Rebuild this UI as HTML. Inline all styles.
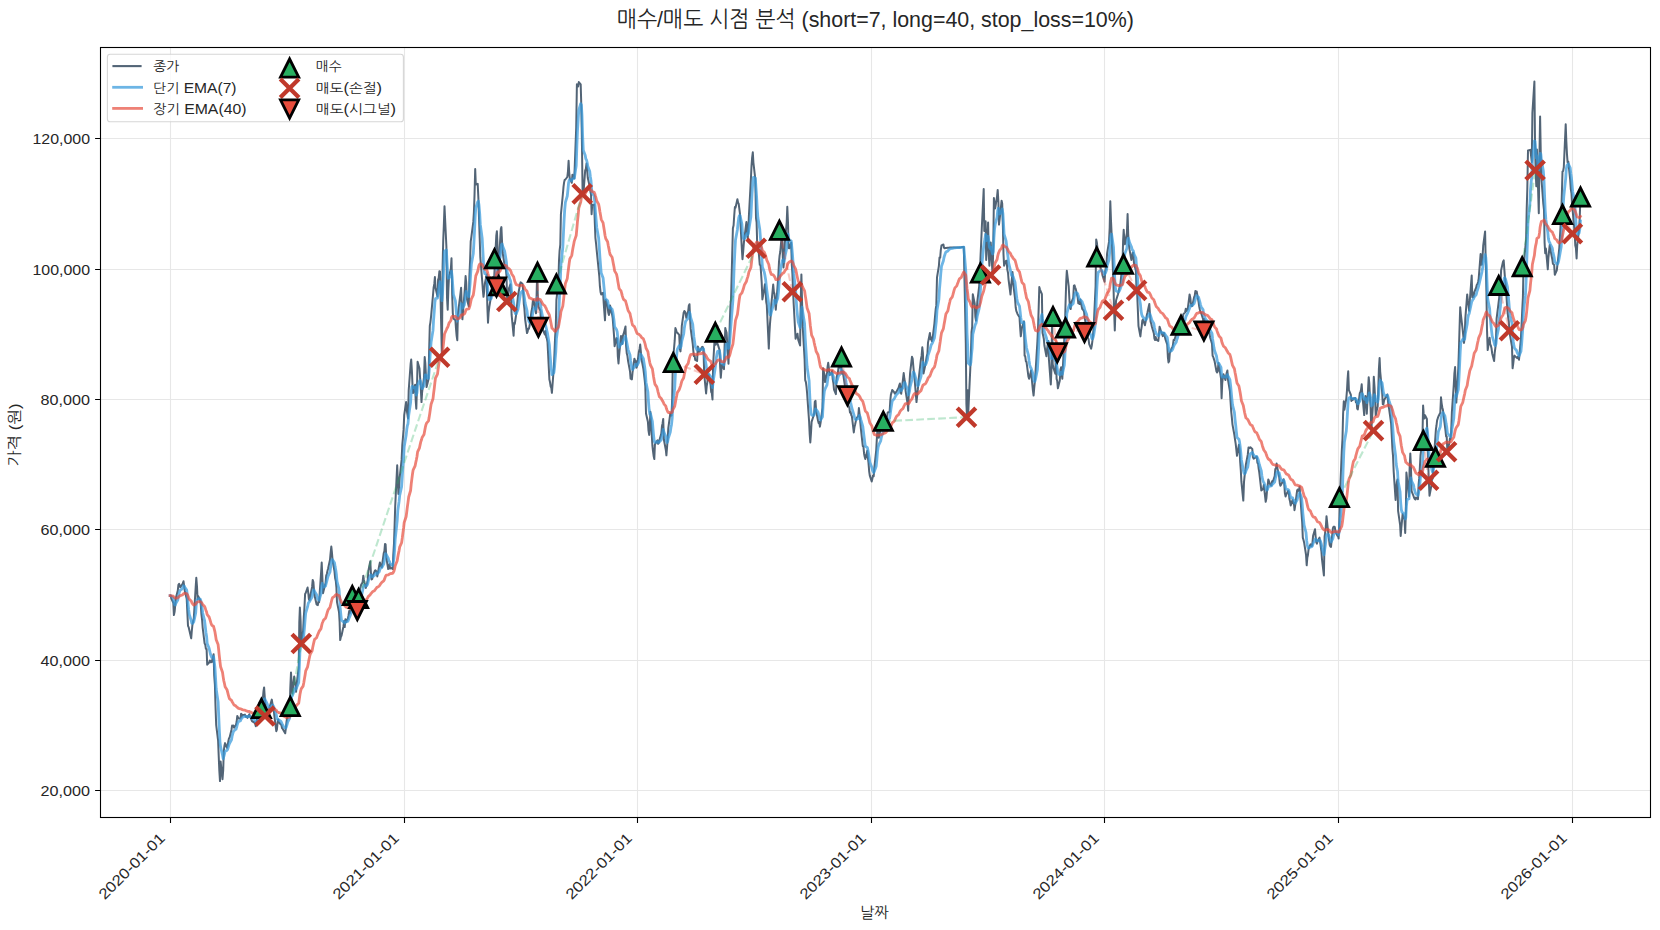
<!DOCTYPE html><html lang="ko"><head><meta charset="utf-8"><title>매수/매도 시점 분석</title>
<style>html,body{margin:0;padding:0;background:#fff}svg{display:block}text{font-family:"Liberation Sans","NanumGothic","Noto Sans CJK KR",sans-serif;fill:#262626}</style></head><body>
<svg width="1660" height="930" viewBox="0 0 1660 930">
<rect width="1660" height="930" fill="#fff"/>
<path d="M170.5 47.5 V817.5 M404.5 47.5 V817.5 M637.5 47.5 V817.5 M871.5 47.5 V817.5 M1104.5 47.5 V817.5 M1338.5 47.5 V817.5 M1572.5 47.5 V817.5 M100.5 790.5 H1650.5 M100.5 660.5 H1650.5 M100.5 529.5 H1650.5 M100.5 399.5 H1650.5 M100.5 269.5 H1650.5 M100.5 138.5 H1650.5" stroke="#b0b0b0" stroke-opacity="0.3" stroke-width="1.05" fill="none"/>
<clipPath id="c"><rect x="100.5" y="47.5" width="1550.0" height="770.0"/></clipPath>
<g clip-path="url(#c)">
<path d="M170.1 595.7 L170.7 595.6 L171.4 598.9 L173.3 602.8 L173.9 615.1 L174.6 611.8 L175.2 605.9 L175.9 597.8 L177.8 590.6 L178.4 584.8 L179.1 583.9 L179.7 585.3 L180.3 587.3 L182.3 584.4 L182.9 583.2 L183.5 581.2 L184.2 586.5 L184.8 590.9 L186.7 598.8 L187.4 613.4 L188.0 625.9 L188.6 627.1 L189.3 630.1 L191.2 638.4 L191.8 631.0 L192.5 624.2 L193.1 621.5 L193.8 618.2 L195.7 586.7 L196.3 577.8 L197.0 586.5 L197.6 599.2 L198.2 596.1 L200.2 600.2 L200.8 605.1 L201.4 614.2 L202.1 620.0 L202.7 627.8 L204.6 643.4 L205.3 644.8 L205.9 648.8 L206.6 648.9 L207.2 664.7 L209.1 662.5 L209.8 660.5 L210.4 662.3 L211.0 661.2 L211.7 662.2 L213.6 654.3 L214.2 675.5 L214.9 684.8 L215.5 706.3 L216.2 725.1 L218.1 740.7 L218.7 755.8 L219.3 770.1 L220.0 781.1 L220.6 761.4 L222.5 779.2 L223.2 770.1 L223.8 750.7 L224.5 745.5 L225.1 743.1 L227.0 747.8 L227.7 745.5 L228.3 741.5 L228.9 738.6 L229.6 737.4 L231.5 729.7 L232.1 725.6 L232.8 725.8 L233.4 725.5 L234.1 727.7 L236.0 724.8 L236.6 722.0 L237.3 715.9 L237.9 717.1 L238.5 718.5 L240.5 718.5 L241.1 713.7 L241.7 716.7 L242.4 714.7 L243.0 715.3 L244.9 714.6 L245.6 716.3 L246.2 717.0 L246.9 716.2 L247.5 717.9 L249.4 714.2 L250.0 716.7 L250.7 717.8 L251.3 719.3 L252.0 721.2 L253.9 722.4 L254.5 722.2 L255.2 724.0 L255.8 726.2 L256.4 723.5 L258.4 709.6 L259.0 704.2 L259.6 702.3 L260.3 703.1 L260.9 708.5 L262.8 698.6 L263.5 691.1 L264.1 687.4 L264.8 697.7 L265.4 704.5 L267.3 716.0 L268.0 714.5 L268.6 710.4 L269.2 708.2 L269.9 706.2 L271.8 699.6 L272.4 703.3 L273.1 708.3 L273.7 709.6 L274.4 716.2 L276.3 731.2 L276.9 729.7 L277.6 722.5 L278.2 719.5 L278.8 722.2 L280.8 724.5 L281.4 725.0 L282.0 728.0 L282.7 728.8 L283.3 729.9 L285.2 733.3 L285.9 727.9 L286.5 721.9 L287.1 717.8 L287.8 714.5 L289.7 706.5 L290.3 688.1 L291.0 672.6 L291.6 683.2 L292.3 693.5 L294.2 676.4 L294.8 682.8 L295.5 685.3 L296.1 691.8 L296.7 683.5 L298.7 667.8 L299.3 622.4 L299.9 607.5 L300.6 620.9 L301.2 643.5 L303.1 630.8 L303.8 617.1 L304.4 608.3 L305.1 594.0 L305.7 593.0 L307.6 587.5 L308.3 593.1 L308.9 599.2 L309.5 600.1 L310.2 596.2 L312.1 586.9 L312.7 579.9 L313.4 582.0 L314.0 590.0 L314.6 595.8 L316.6 604.5 L317.2 604.9 L317.8 605.1 L318.5 601.2 L319.1 602.1 L321.0 573.7 L321.7 562.6 L322.3 575.9 L323.0 593.3 L323.6 590.8 L325.5 583.3 L326.2 575.6 L326.8 574.0 L327.4 571.3 L328.1 568.5 L330.0 559.8 L330.6 553.1 L331.3 546.5 L331.9 552.2 L332.6 560.6 L334.5 571.4 L335.1 578.0 L335.8 581.0 L336.4 587.3 L337.0 602.1 L339.0 612.0 L339.6 621.6 L340.2 640.1 L340.9 636.7 L341.5 635.8 L343.4 626.7 L344.1 621.1 L344.7 627.1 L345.4 619.3 L346.0 622.2 L347.9 618.4 L348.5 615.5 L349.2 610.9 L349.8 613.4 L350.5 609.5 L352.4 595.5 L353.0 608.8 L353.7 609.4 L354.3 608.7 L354.9 608.9 L356.9 604.8 L357.5 610.6 L358.1 598.7 L358.8 598.5 L359.4 591.2 L361.3 584.3 L362.0 583.5 L362.6 582.1 L363.3 575.7 L363.9 580.0 L365.8 587.9 L366.5 585.5 L367.1 582.9 L367.7 580.3 L368.4 570.7 L370.3 561.2 L370.9 572.6 L371.6 579.4 L372.2 579.0 L372.9 575.6 L374.8 570.8 L375.4 570.3 L376.1 570.9 L376.7 572.4 L377.3 576.4 L379.2 565.7 L379.9 562.4 L380.5 565.2 L381.2 566.4 L381.8 567.2 L383.7 553.3 L384.4 551.0 L385.0 544.0 L385.6 544.3 L386.3 557.7 L388.2 569.1 L388.8 568.0 L389.5 564.2 L390.1 568.5 L390.8 567.9 L392.7 569.0 L393.3 554.9 L394.0 543.2 L394.6 525.9 L395.2 506.3 L397.2 465.3 L397.8 480.6 L398.4 493.9 L399.1 486.4 L399.7 477.5 L401.6 459.9 L402.3 444.8 L402.9 438.2 L403.6 429.4 L404.2 415.2 L406.1 402.1 L406.8 410.5 L407.4 414.1 L408.0 418.4 L408.7 390.4 L410.6 364.2 L411.2 359.6 L411.9 370.8 L412.5 385.1 L413.1 393.1 L415.1 384.8 L415.7 400.4 L416.3 408.8 L417.0 386.5 L417.6 361.7 L419.5 368.5 L420.2 379.0 L420.8 388.4 L421.5 402.1 L422.1 392.5 L424.0 377.3 L424.7 357.1 L425.3 363.1 L425.9 375.1 L426.6 387.1 L428.5 379.3 L429.1 352.0 L429.8 326.0 L430.4 322.3 L431.1 316.1 L433.0 295.1 L433.6 287.8 L434.3 283.9 L434.9 277.1 L435.5 287.8 L437.5 296.4 L438.1 279.7 L438.7 278.0 L439.4 271.2 L440.0 271.6 L441.9 357.3 L442.6 266.9 L443.2 241.2 L443.8 226.4 L444.5 206.2 L446.4 246.5 L447.0 297.8 L447.7 309.7 L448.3 291.1 L449.0 276.8 L450.9 268.6 L451.5 258.3 L452.2 295.2 L452.8 313.1 L453.4 318.5 L455.4 320.3 L456.0 328.6 L456.6 335.5 L457.3 340.2 L457.9 314.4 L459.8 298.8 L460.5 293.2 L461.1 287.8 L461.8 306.3 L462.4 319.3 L464.3 295.9 L465.0 286.7 L465.6 276.0 L466.2 282.7 L466.9 299.1 L468.8 306.5 L469.4 276.3 L470.1 260.3 L470.7 241.5 L471.4 236.7 L473.3 221.9 L473.9 212.3 L474.5 195.7 L475.2 169.1 L475.8 184.5 L477.7 183.9 L478.4 198.5 L479.0 217.8 L479.7 238.0 L480.3 257.2 L482.2 280.9 L482.9 290.4 L483.5 296.8 L484.1 292.2 L484.8 283.8 L486.7 275.0 L487.3 305.2 L488.0 322.7 L488.6 312.7 L489.3 307.2 L491.2 295.4 L491.8 286.0 L492.5 280.4 L493.1 277.0 L493.7 287.0 L495.7 247.2 L496.3 235.6 L496.9 231.2 L497.6 247.2 L498.2 285.8 L500.1 241.0 L500.8 229.1 L501.4 227.1 L502.1 242.5 L502.7 253.0 L504.6 265.4 L505.3 267.1 L505.9 269.8 L506.5 275.9 L507.2 301.5 L509.1 287.8 L509.7 286.4 L510.4 284.4 L511.0 296.8 L511.6 314.7 L513.6 335.7 L514.2 322.9 L514.8 323.8 L515.5 319.0 L516.1 314.8 L518.0 295.7 L518.7 291.8 L519.3 288.5 L520.0 284.3 L520.6 282.4 L522.5 283.8 L523.2 291.1 L523.8 303.8 L524.4 308.6 L525.1 319.0 L527.0 333.1 L527.6 331.8 L528.3 328.4 L528.9 328.8 L529.6 325.8 L531.5 311.2 L532.1 308.5 L532.8 301.7 L533.4 300.1 L534.0 302.1 L536.0 313.3 L536.6 295.3 L537.2 272.3 L537.9 300.1 L538.5 306.7 L540.4 310.7 L541.1 327.3 L541.7 322.4 L542.3 324.2 L543.0 330.1 L544.9 334.5 L545.5 330.9 L546.2 337.0 L546.8 338.4 L547.5 342.1 L549.4 379.6 L550.0 382.0 L550.7 386.5 L551.3 387.8 L551.9 392.8 L553.9 366.7 L554.5 352.4 L555.1 337.2 L555.8 326.2 L556.4 299.9 L558.3 283.9 L559.0 260.9 L559.6 250.6 L560.3 244.6 L560.9 214.4 L562.8 195.0 L563.5 186.9 L564.1 182.4 L564.7 179.8 L565.4 179.5 L567.3 177.0 L567.9 172.2 L568.6 160.8 L569.2 172.3 L569.8 178.6 L571.8 182.8 L572.4 174.7 L573.0 178.1 L573.7 176.7 L574.3 178.4 L576.2 127.7 L576.9 84.2 L577.5 86.1 L578.2 86.4 L578.8 82.1 L580.7 84.4 L581.4 108.9 L582.0 147.4 L582.6 193.9 L583.3 195.2 L585.2 170.2 L585.8 169.2 L586.5 163.5 L587.1 169.6 L587.8 178.0 L589.7 186.2 L590.3 191.2 L591.0 194.2 L591.6 214.3 L592.2 205.2 L594.2 204.6 L594.8 222.4 L595.4 237.8 L596.1 243.8 L596.7 250.4 L598.6 269.2 L599.3 276.3 L599.9 286.2 L600.6 292.3 L601.2 294.6 L603.1 292.7 L603.7 303.0 L604.4 312.7 L605.0 320.3 L605.7 299.8 L607.6 306.6 L608.2 312.2 L608.9 315.1 L609.5 312.6 L610.1 305.6 L612.1 314.7 L612.7 318.3 L613.3 326.1 L614.0 335.1 L614.6 346.3 L616.5 338.1 L617.2 338.7 L617.8 355.8 L618.5 363.5 L619.1 355.7 L621.0 335.9 L621.7 340.4 L622.3 344.0 L622.9 335.7 L623.6 334.0 L625.5 326.4 L626.1 346.0 L626.8 353.6 L627.4 355.7 L628.1 361.1 L630.0 371.2 L630.6 378.7 L631.3 377.5 L631.9 379.4 L632.5 372.7 L634.4 358.7 L635.1 360.5 L635.7 360.8 L636.4 367.7 L637.0 366.6 L638.9 351.7 L639.6 348.7 L640.2 344.5 L640.8 351.2 L641.5 359.0 L643.4 369.1 L644.0 374.1 L644.7 380.1 L645.3 386.1 L646.0 413.5 L647.9 421.8 L648.5 430.7 L649.2 434.9 L649.8 425.7 L650.4 411.8 L652.4 445.7 L653.0 451.2 L653.6 455.7 L654.3 459.1 L654.9 444.6 L656.8 441.2 L657.5 440.2 L658.1 443.8 L658.8 442.9 L659.4 440.2 L661.3 433.6 L662.0 425.9 L662.6 423.4 L663.2 418.9 L663.9 439.8 L665.8 449.7 L666.4 455.3 L667.1 446.6 L667.7 438.5 L668.3 428.1 L670.3 413.4 L670.9 415.1 L671.5 415.6 L672.2 398.4 L672.8 362.5 L674.7 340.7 L675.4 328.1 L676.0 329.6 L676.7 332.6 L677.3 332.6 L679.2 334.9 L679.9 349.1 L680.5 351.4 L681.1 341.8 L681.8 325.8 L683.7 312.5 L684.3 311.0 L685.0 311.7 L685.6 313.2 L686.3 317.8 L688.2 311.0 L688.8 305.7 L689.5 304.2 L690.1 319.0 L690.7 328.9 L692.7 343.5 L693.3 350.3 L693.9 356.1 L694.6 355.7 L695.2 359.9 L697.1 361.0 L697.8 346.5 L698.4 347.9 L699.0 351.8 L699.7 351.4 L701.6 347.7 L702.2 346.8 L702.9 347.1 L703.5 349.7 L704.2 374.2 L706.1 393.4 L706.7 386.4 L707.4 381.8 L708.0 374.7 L708.6 374.4 L710.6 385.1 L711.2 392.1 L711.8 393.1 L712.5 399.5 L713.1 365.2 L715.0 332.3 L715.7 344.8 L716.3 341.7 L717.0 341.4 L717.6 343.8 L719.5 349.9 L720.2 367.9 L720.8 377.7 L721.4 369.9 L722.1 364.5 L724.0 369.1 L724.6 345.9 L725.3 327.9 L725.9 330.7 L726.6 332.7 L728.5 363.8 L729.1 345.1 L729.8 321.8 L730.4 306.0 L731.0 300.2 L732.9 228.3 L733.6 225.3 L734.2 215.7 L734.9 207.0 L735.5 207.8 L737.4 199.3 L738.1 202.8 L738.7 203.8 L739.3 208.5 L740.0 214.1 L741.9 249.9 L742.5 259.2 L743.2 251.5 L743.8 243.6 L744.5 237.3 L746.4 222.1 L747.0 230.1 L747.7 238.3 L748.3 231.1 L748.9 215.8 L750.9 179.0 L751.5 166.0 L752.1 157.9 L752.8 152.3 L753.4 162.6 L755.3 178.8 L756.0 218.2 L756.6 222.4 L757.3 248.3 L757.9 242.9 L759.8 264.8 L760.5 265.3 L761.1 273.6 L761.7 282.6 L762.4 299.4 L764.3 288.6 L764.9 284.3 L765.6 291.7 L766.2 301.8 L766.8 305.1 L768.8 348.6 L769.4 333.4 L770.0 323.7 L770.7 315.5 L771.3 304.7 L773.2 284.5 L773.9 292.2 L774.5 293.9 L775.2 303.6 L775.8 309.7 L777.7 284.5 L778.4 273.8 L779.0 261.9 L779.6 255.6 L780.3 251.5 L782.2 230.3 L782.8 257.8 L783.5 267.5 L784.1 261.0 L784.8 243.5 L786.7 222.3 L787.3 206.7 L788.0 222.5 L788.6 248.1 L789.2 248.3 L791.2 242.6 L791.8 264.6 L792.4 273.7 L793.1 291.7 L793.7 304.3 L795.6 338.8 L796.3 336.1 L796.9 334.7 L797.5 333.7 L798.2 339.7 L800.1 345.5 L800.7 300.6 L801.4 274.4 L802.0 300.0 L802.7 326.4 L804.6 359.3 L805.2 380.2 L805.9 382.2 L806.5 386.5 L807.1 393.1 L809.1 421.5 L809.7 434.1 L810.3 442.4 L811.0 432.7 L811.6 421.9 L813.5 416.0 L814.2 413.2 L814.8 401.9 L815.5 400.8 L816.1 410.9 L818.0 420.5 L818.7 423.3 L819.3 422.1 L819.9 426.7 L820.6 422.7 L822.5 407.5 L823.1 368.2 L823.8 371.3 L824.4 375.5 L825.1 382.1 L827.0 372.7 L827.6 366.6 L828.2 362.8 L828.9 368.2 L829.5 375.0 L831.4 373.1 L832.1 371.0 L832.7 379.1 L833.4 383.0 L834.0 389.6 L835.9 394.2 L836.6 377.2 L837.2 375.0 L837.8 373.4 L838.5 367.7 L840.4 367.4 L841.0 357.0 L841.7 373.4 L842.3 371.0 L843.0 373.2 L844.9 385.5 L845.5 388.5 L846.2 396.1 L846.8 395.7 L847.4 403.0 L849.4 408.0 L850.0 412.6 L850.6 411.9 L851.3 415.2 L851.9 416.3 L853.8 432.4 L854.5 426.9 L855.1 424.5 L855.8 421.2 L856.4 418.5 L858.3 415.7 L858.9 408.0 L859.6 414.3 L860.2 421.1 L860.9 429.0 L862.8 446.2 L863.4 446.2 L864.1 453.9 L864.7 456.8 L865.3 459.1 L867.3 450.7 L867.9 458.0 L868.5 462.9 L869.2 471.6 L869.8 475.6 L871.7 481.5 L872.4 478.6 L873.0 475.5 L873.7 476.3 L874.3 468.1 L876.2 450.3 L876.9 437.8 L877.5 429.0 L878.1 434.3 L878.8 437.8 L880.7 428.8 L881.3 427.9 L882.0 427.1 L882.6 428.6 L883.3 426.9 L885.2 421.3 L885.8 422.0 L886.5 418.3 L887.1 416.2 L887.7 412.5 L889.6 412.0 L890.3 400.5 L890.9 394.6 L891.6 392.4 L892.2 389.9 L894.1 392.1 L894.8 393.7 L895.4 392.9 L896.0 392.3 L896.7 391.2 L898.6 387.8 L899.2 385.4 L899.9 383.5 L900.5 390.7 L901.2 393.8 L903.1 378.4 L903.7 373.1 L904.4 379.0 L905.0 382.2 L905.6 390.9 L907.6 404.0 L908.2 410.7 L908.8 392.5 L909.5 382.7 L910.1 373.1 L912.0 356.7 L912.7 358.9 L913.3 366.1 L914.0 373.5 L914.6 379.0 L916.5 402.1 L917.2 395.3 L917.8 389.7 L918.4 382.3 L919.1 375.4 L921.0 358.6 L921.6 355.9 L922.3 347.3 L922.9 352.9 L923.5 373.5 L925.5 364.0 L926.1 360.5 L926.7 356.5 L927.4 353.8 L928.0 342.6 L929.9 332.9 L930.6 339.3 L931.2 337.5 L931.9 341.3 L932.5 339.2 L934.4 323.6 L935.1 315.5 L935.7 309.1 L936.3 305.4 L937.0 277.5 L938.9 265.8 L939.5 257.5 L940.2 257.6 L940.8 250.1 L941.5 245.3 L943.4 244.5 L944.0 247.7 L944.7 248.3 L945.3 248.1 L945.9 248.0 L947.9 247.7 L948.5 247.7 L949.1 247.7 L949.8 247.6 L950.4 247.6 L952.3 247.5 L953.0 247.5 L953.6 247.5 L954.2 247.5 L954.9 247.5 L956.8 247.5 L957.4 247.5 L958.1 247.5 L958.7 247.5 L959.4 247.4 L961.3 247.2 L961.9 247.1 L962.6 247.0 L963.2 247.0 L963.8 246.9 L965.8 343.2 L966.4 403.9 L967.0 417.2 L967.7 390.2 L968.3 411.9 L970.2 370.6 L970.9 354.2 L971.5 332.2 L972.2 326.6 L972.8 294.3 L974.7 303.5 L975.4 317.2 L976.0 320.7 L976.6 311.6 L977.3 301.7 L979.2 286.0 L979.8 273.0 L980.5 257.4 L981.1 244.3 L981.8 227.9 L983.7 189.0 L984.3 231.1 L985.0 227.0 L985.6 221.3 L986.2 259.9 L988.1 222.6 L988.8 254.7 L989.4 265.7 L990.1 253.0 L990.7 242.4 L992.6 275.0 L993.3 244.5 L993.9 198.0 L994.5 203.5 L995.2 208.4 L997.1 196.1 L997.7 189.9 L998.4 202.2 L999.0 224.6 L999.7 218.9 L1001.6 200.7 L1002.2 203.5 L1002.9 227.0 L1003.5 254.2 L1004.1 265.7 L1006.1 260.7 L1006.7 260.8 L1007.3 269.6 L1008.0 272.7 L1008.6 279.8 L1010.5 294.5 L1011.2 285.1 L1011.8 279.8 L1012.5 272.1 L1013.1 282.9 L1015.0 298.2 L1015.7 307.5 L1016.3 310.9 L1016.9 312.4 L1017.6 314.2 L1019.5 317.1 L1020.1 327.2 L1020.8 336.3 L1021.4 332.0 L1022.0 327.3 L1024.0 321.4 L1024.6 355.8 L1025.2 356.1 L1025.9 361.4 L1026.5 361.8 L1028.4 376.4 L1029.1 378.7 L1029.7 376.7 L1030.4 374.1 L1031.0 370.6 L1032.9 390.3 L1033.6 395.5 L1034.2 388.1 L1034.8 382.1 L1035.5 372.6 L1037.4 341.5 L1038.0 328.8 L1038.7 307.3 L1039.3 287.1 L1040.0 289.6 L1041.9 294.2 L1042.5 332.7 L1043.2 335.7 L1043.8 338.7 L1044.4 345.5 L1046.4 356.3 L1047.0 349.6 L1047.6 345.5 L1048.3 341.1 L1048.9 359.2 L1050.8 384.5 L1051.5 367.8 L1052.1 316.5 L1052.7 364.2 L1053.4 367.7 L1055.3 373.8 L1055.9 352.8 L1056.6 378.9 L1057.2 380.9 L1057.9 388.3 L1059.8 380.5 L1060.4 370.1 L1061.1 367.3 L1061.7 374.2 L1062.3 378.7 L1064.3 338.8 L1064.9 328.0 L1065.5 304.7 L1066.2 282.0 L1066.8 270.7 L1068.7 286.1 L1069.4 299.0 L1070.0 307.7 L1070.7 309.0 L1071.3 302.7 L1073.2 297.9 L1073.9 285.6 L1074.5 285.3 L1075.1 287.3 L1075.8 289.1 L1077.7 297.6 L1078.3 303.3 L1079.0 303.5 L1079.6 304.0 L1080.3 299.6 L1082.2 308.9 L1082.8 309.7 L1083.4 309.9 L1084.1 312.0 L1084.7 318.2 L1086.6 327.8 L1087.3 332.5 L1087.9 337.6 L1088.6 339.4 L1089.2 344.2 L1091.1 348.7 L1091.8 345.5 L1092.4 340.9 L1093.0 334.8 L1093.7 326.8 L1095.6 286.0 L1096.2 239.4 L1096.9 242.8 L1097.5 248.3 L1098.2 257.0 L1100.1 266.1 L1100.7 268.3 L1101.4 270.1 L1102.0 271.5 L1102.6 275.8 L1104.6 281.8 L1105.2 271.1 L1105.8 268.2 L1106.5 263.5 L1107.1 253.3 L1109.0 241.9 L1109.7 227.6 L1110.3 201.2 L1111.0 220.7 L1111.6 233.3 L1113.5 286.5 L1114.1 310.3 L1114.8 330.5 L1115.4 311.6 L1116.1 300.3 L1118.0 294.2 L1118.6 292.0 L1119.3 288.3 L1119.9 286.0 L1120.5 282.6 L1122.5 264.3 L1123.1 241.1 L1123.7 229.8 L1124.4 240.9 L1125.0 244.2 L1126.9 233.0 L1127.6 214.0 L1128.2 233.7 L1128.9 245.2 L1129.5 249.4 L1131.4 260.0 L1132.1 257.4 L1132.7 252.7 L1133.3 253.0 L1134.0 263.3 L1135.9 270.8 L1136.5 290.4 L1137.2 294.2 L1137.8 308.8 L1138.5 326.1 L1140.4 336.4 L1141.0 330.7 L1141.7 326.6 L1142.3 320.7 L1142.9 319.5 L1144.9 325.2 L1145.5 322.2 L1146.1 319.4 L1146.8 315.2 L1147.4 312.8 L1149.3 303.9 L1150.0 314.8 L1150.6 321.8 L1151.2 323.6 L1151.9 326.7 L1153.8 333.2 L1154.4 338.5 L1155.1 340.0 L1155.7 337.1 L1156.4 339.7 L1158.3 341.0 L1158.9 334.9 L1159.6 326.7 L1160.2 328.5 L1160.8 330.9 L1162.8 336.1 L1163.4 333.0 L1164.0 333.0 L1164.7 336.1 L1165.3 338.9 L1167.2 344.3 L1167.9 357.3 L1168.5 362.4 L1169.2 361.0 L1169.8 353.2 L1171.7 348.2 L1172.4 347.3 L1173.0 344.6 L1173.6 339.9 L1174.3 340.1 L1176.2 334.5 L1176.8 332.0 L1177.5 332.7 L1178.1 328.3 L1178.7 327.0 L1180.7 321.0 L1181.3 325.3 L1181.9 319.0 L1182.6 320.7 L1183.2 314.4 L1185.1 312.3 L1185.8 308.8 L1186.4 311.1 L1187.1 309.9 L1187.7 309.3 L1189.6 294.5 L1190.3 297.6 L1190.9 303.8 L1191.5 306.3 L1192.2 306.1 L1194.1 297.2 L1194.7 295.9 L1195.4 290.9 L1196.0 291.6 L1196.7 291.5 L1198.6 302.1 L1199.2 306.5 L1199.9 309.8 L1200.5 312.1 L1201.1 313.0 L1203.1 319.2 L1203.7 331.0 L1204.3 319.1 L1205.0 323.1 L1205.6 322.8 L1207.5 328.1 L1208.2 327.6 L1208.8 332.8 L1209.4 332.6 L1210.1 337.5 L1212.0 343.8 L1212.6 355.8 L1213.3 357.1 L1213.9 359.2 L1214.6 361.2 L1216.5 371.5 L1217.1 372.4 L1217.8 371.3 L1218.4 362.9 L1219.0 365.8 L1221.0 378.3 L1221.6 398.2 L1222.2 383.5 L1222.9 376.9 L1223.5 374.3 L1225.4 380.0 L1226.1 376.0 L1226.7 372.9 L1227.4 370.5 L1228.0 379.8 L1229.9 391.0 L1230.6 402.3 L1231.2 411.5 L1231.8 417.1 L1232.5 424.6 L1234.4 435.0 L1235.0 439.3 L1235.7 443.8 L1236.3 449.4 L1237.0 455.8 L1238.9 444.8 L1239.5 448.8 L1240.2 462.3 L1240.8 470.3 L1241.4 481.7 L1243.3 500.6 L1244.0 482.1 L1244.6 475.8 L1245.3 471.2 L1245.9 464.4 L1247.8 454.4 L1248.5 447.5 L1249.1 447.7 L1249.7 448.0 L1250.4 447.3 L1252.3 449.0 L1252.9 457.1 L1253.6 458.7 L1254.2 458.3 L1254.9 457.9 L1256.8 456.7 L1257.4 462.9 L1258.1 463.7 L1258.7 468.9 L1259.3 472.7 L1261.3 490.4 L1261.9 490.0 L1262.5 489.4 L1263.2 488.4 L1263.8 484.9 L1265.7 501.8 L1266.4 498.2 L1267.0 490.8 L1267.7 485.4 L1268.3 479.4 L1270.2 484.5 L1270.9 485.4 L1271.5 485.3 L1272.1 481.2 L1272.8 481.8 L1274.7 476.1 L1275.3 469.1 L1276.0 468.5 L1276.6 463.5 L1277.2 467.3 L1279.2 477.1 L1279.8 483.5 L1280.4 485.7 L1281.1 484.6 L1281.7 483.6 L1283.6 479.2 L1284.3 484.2 L1284.9 493.4 L1285.6 496.5 L1286.2 494.7 L1288.1 490.9 L1288.8 491.8 L1289.4 498.8 L1290.0 501.2 L1290.7 505.4 L1292.6 499.9 L1293.2 503.3 L1293.9 502.8 L1294.5 510.2 L1295.2 505.4 L1297.1 490.6 L1297.7 489.5 L1298.4 490.5 L1299.0 491.2 L1299.6 486.6 L1301.6 514.4 L1302.2 522.7 L1302.8 537.6 L1303.5 540.0 L1304.1 542.4 L1306.0 554.5 L1306.7 565.3 L1307.3 557.8 L1307.9 555.2 L1308.6 549.2 L1310.5 544.4 L1311.1 545.9 L1311.8 546.1 L1312.4 543.3 L1313.1 535.8 L1315.0 529.2 L1315.6 536.3 L1316.3 542.4 L1316.9 543.7 L1317.5 541.5 L1319.5 537.6 L1320.1 541.4 L1320.7 546.0 L1321.4 551.3 L1322.0 559.5 L1323.9 575.5 L1324.6 536.4 L1325.2 533.0 L1325.9 525.7 L1326.5 516.2 L1328.4 534.5 L1329.1 540.3 L1329.7 545.0 L1330.3 546.5 L1331.0 547.0 L1332.9 528.2 L1333.5 526.8 L1334.2 526.7 L1334.8 527.1 L1335.5 531.9 L1337.4 535.7 L1338.0 535.9 L1338.6 538.6 L1339.3 521.0 L1339.9 497.5 L1341.8 450.7 L1342.5 438.5 L1343.1 413.8 L1343.8 401.2 L1344.4 409.8 L1346.3 398.6 L1347.0 390.1 L1347.6 378.8 L1348.2 371.3 L1348.9 390.1 L1350.8 394.7 L1351.4 401.0 L1352.1 398.7 L1352.7 400.0 L1353.4 398.4 L1355.3 398.0 L1355.9 402.3 L1356.6 401.0 L1357.2 408.6 L1357.8 409.4 L1359.8 393.2 L1360.4 391.9 L1361.0 390.2 L1361.7 384.3 L1362.3 394.2 L1364.2 415.1 L1364.9 400.2 L1365.5 396.0 L1366.2 399.9 L1366.8 413.8 L1368.7 377.2 L1369.3 383.4 L1370.0 398.1 L1370.6 407.1 L1371.3 430.6 L1373.2 400.4 L1373.8 376.8 L1374.5 386.8 L1375.1 398.6 L1375.7 415.3 L1377.7 406.2 L1378.3 389.1 L1378.9 368.8 L1379.6 358.1 L1380.2 371.8 L1382.1 391.4 L1382.8 404.3 L1383.4 404.4 L1384.1 400.3 L1384.7 399.1 L1386.6 395.8 L1387.3 394.5 L1387.9 400.1 L1388.5 405.7 L1389.2 409.7 L1391.1 423.3 L1391.7 434.5 L1392.4 448.8 L1393.0 455.6 L1393.7 471.8 L1395.6 499.9 L1396.2 488.5 L1396.9 481.8 L1397.5 479.4 L1398.1 510.8 L1400.1 524.8 L1400.7 535.9 L1401.3 528.2 L1402.0 521.0 L1402.6 514.0 L1404.5 519.3 L1405.2 532.9 L1405.8 513.9 L1406.4 472.6 L1407.1 479.2 L1409.0 496.6 L1409.6 469.0 L1410.3 453.6 L1410.9 465.5 L1411.6 491.2 L1413.5 496.0 L1414.1 497.8 L1414.8 499.0 L1415.4 499.5 L1416.0 497.4 L1418.0 499.2 L1418.6 484.7 L1419.2 478.4 L1419.9 466.9 L1420.5 455.5 L1422.4 440.5 L1423.1 405.6 L1423.7 413.9 L1424.4 418.5 L1425.0 415.2 L1426.9 418.9 L1427.6 446.9 L1428.2 462.7 L1428.8 480.3 L1429.5 495.7 L1431.4 485.6 L1432.0 478.4 L1432.7 478.5 L1433.3 464.9 L1433.9 457.3 L1435.9 429.5 L1436.5 425.5 L1437.1 420.4 L1437.8 418.2 L1438.4 416.5 L1440.3 412.7 L1441.0 397.3 L1441.6 403.1 L1442.3 407.5 L1442.9 409.7 L1444.8 425.2 L1445.5 430.6 L1446.1 436.4 L1446.7 436.2 L1447.4 451.7 L1449.3 443.0 L1449.9 438.6 L1450.6 438.9 L1451.2 431.0 L1451.9 411.8 L1453.8 384.5 L1454.4 373.3 L1455.1 367.0 L1455.7 387.0 L1456.3 402.6 L1458.3 368.3 L1458.9 350.4 L1459.5 329.6 L1460.2 307.2 L1460.8 313.9 L1462.7 329.9 L1463.4 336.9 L1464.0 343.0 L1464.7 337.0 L1465.3 318.8 L1467.2 294.4 L1467.8 300.4 L1468.5 305.0 L1469.1 310.7 L1469.8 300.8 L1471.7 275.5 L1472.3 297.3 L1473.0 295.3 L1473.6 296.9 L1474.2 292.3 L1476.2 287.5 L1476.8 284.8 L1477.4 284.1 L1478.1 282.0 L1478.7 278.6 L1480.6 254.1 L1481.3 264.8 L1481.9 264.6 L1482.6 255.9 L1483.2 245.7 L1485.1 231.5 L1485.8 265.2 L1486.4 290.7 L1487.0 329.5 L1487.7 350.1 L1489.6 337.7 L1490.2 344.1 L1490.9 345.7 L1491.5 348.2 L1492.2 353.5 L1494.1 361.1 L1494.7 352.8 L1495.4 347.6 L1496.0 338.5 L1496.6 318.6 L1498.5 303.3 L1499.2 297.6 L1499.8 285.4 L1500.5 285.5 L1501.1 270.4 L1503.0 261.7 L1503.7 260.4 L1504.3 269.0 L1504.9 277.1 L1505.6 283.9 L1507.5 311.1 L1508.1 316.8 L1508.8 321.5 L1509.4 330.8 L1510.1 335.9 L1512.0 346.6 L1512.6 368.3 L1513.3 363.1 L1513.9 357.6 L1514.5 355.6 L1516.5 357.6 L1517.1 358.1 L1517.7 356.8 L1518.4 358.0 L1519.0 359.8 L1520.9 338.2 L1521.6 324.3 L1522.2 310.9 L1522.9 297.6 L1523.5 266.7 L1525.4 246.9 L1526.1 239.6 L1526.7 209.2 L1527.3 189.3 L1528.0 150.4 L1529.9 150.1 L1530.5 149.8 L1531.2 156.8 L1531.8 162.0 L1532.4 112.8 L1534.4 81.6 L1535.0 141.2 L1535.6 170.2 L1536.3 186.3 L1536.9 149.4 L1538.8 213.3 L1539.5 152.7 L1540.1 116.5 L1540.8 154.2 L1541.4 178.2 L1543.3 203.6 L1544.0 209.8 L1544.6 242.6 L1545.2 253.3 L1545.9 248.5 L1547.8 269.3 L1548.4 257.8 L1549.1 250.8 L1549.7 245.0 L1550.4 249.8 L1552.3 259.2 L1552.9 263.7 L1553.6 264.4 L1554.2 265.2 L1554.8 274.8 L1556.8 270.3 L1557.4 264.9 L1558.0 259.8 L1558.7 253.7 L1559.3 247.8 L1561.2 214.6 L1561.9 192.6 L1562.5 171.5 L1563.1 171.1 L1563.8 167.3 L1565.7 124.2 L1566.3 140.6 L1567.0 154.6 L1567.6 162.3 L1568.3 161.5 L1570.2 179.9 L1570.8 189.1 L1571.5 193.6 L1572.1 205.3 L1572.7 210.9 L1574.7 233.6 L1575.3 245.6 L1575.9 247.9 L1576.6 258.4 L1577.2 245.3 L1579.1 229.1 L1579.8 216.4 L1580.4 197.1" fill="none" stroke="#34495e" stroke-opacity="0.85" stroke-width="2" stroke-linejoin="round"/>
<path d="M170.1 595.7 L170.7 595.7 L171.4 596.5 L173.3 598.0 L173.9 602.3 L174.6 604.7 L175.2 605.0 L175.9 603.2 L177.8 600.0 L178.4 596.2 L179.1 593.2 L179.7 591.2 L180.3 590.2 L182.3 588.8 L182.9 587.4 L183.5 585.8 L184.2 586.0 L184.8 587.2 L186.7 590.1 L187.4 596.0 L188.0 603.4 L188.6 609.4 L189.3 614.5 L191.2 620.5 L191.8 623.1 L192.5 623.4 L193.1 622.9 L193.8 621.7 L195.7 613.0 L196.3 604.2 L197.0 599.8 L197.6 599.6 L198.2 598.7 L200.2 599.1 L200.8 600.6 L201.4 604.0 L202.1 608.0 L202.7 613.0 L204.6 620.6 L205.3 626.6 L205.9 632.2 L206.6 636.4 L207.2 643.5 L209.1 648.2 L209.8 651.3 L210.4 654.0 L211.0 655.8 L211.7 657.4 L213.6 656.6 L214.2 661.4 L214.9 667.2 L215.5 677.0 L216.2 689.0 L218.1 701.9 L218.7 715.4 L219.3 729.1 L220.0 742.1 L220.6 746.9 L222.5 755.0 L223.2 758.8 L223.8 756.7 L224.5 753.9 L225.1 751.2 L227.0 750.4 L227.7 749.2 L228.3 747.2 L228.9 745.1 L229.6 743.2 L231.5 739.8 L232.1 736.2 L232.8 733.6 L233.4 731.6 L234.1 730.6 L236.0 729.2 L236.6 727.4 L237.3 724.5 L237.9 722.7 L238.5 721.6 L240.5 720.8 L241.1 719.1 L241.7 718.5 L242.4 717.5 L243.0 717.0 L244.9 716.4 L245.6 716.4 L246.2 716.5 L246.9 716.4 L247.5 716.8 L249.4 716.2 L250.0 716.3 L250.7 716.7 L251.3 717.3 L252.0 718.3 L253.9 719.3 L254.5 720.0 L255.2 721.0 L255.8 722.3 L256.4 722.6 L258.4 719.4 L259.0 715.6 L259.6 712.3 L260.3 710.0 L260.9 709.6 L262.8 706.8 L263.5 702.9 L264.1 699.0 L264.8 698.7 L265.4 700.1 L267.3 704.1 L268.0 706.7 L268.6 707.6 L269.2 707.8 L269.9 707.4 L271.8 705.4 L272.4 704.9 L273.1 705.7 L273.7 706.7 L274.4 709.1 L276.3 714.6 L276.9 718.4 L277.6 719.4 L278.2 719.4 L278.8 720.1 L280.8 721.2 L281.4 722.2 L282.0 723.6 L282.7 724.9 L283.3 726.2 L285.2 727.9 L285.9 727.9 L286.5 726.4 L287.1 724.3 L287.8 721.8 L289.7 718.0 L290.3 710.5 L291.0 701.0 L291.6 696.6 L292.3 695.8 L294.2 690.9 L294.8 688.9 L295.5 688.0 L296.1 689.0 L296.7 687.6 L298.7 682.6 L299.3 667.6 L299.9 652.5 L300.6 644.6 L301.2 644.4 L303.1 641.0 L303.8 635.0 L304.4 628.3 L305.1 619.7 L305.7 613.0 L307.6 606.7 L308.3 603.3 L308.9 602.3 L309.5 601.7 L310.2 600.3 L312.1 597.0 L312.7 592.7 L313.4 590.0 L314.0 590.0 L314.6 591.5 L316.6 594.7 L317.2 597.3 L317.8 599.2 L318.5 599.7 L319.1 600.3 L321.0 593.6 L321.7 585.9 L322.3 583.4 L323.0 585.9 L323.6 587.1 L325.5 586.1 L326.2 583.5 L326.8 581.1 L327.4 578.7 L328.1 576.1 L330.0 572.0 L330.6 567.3 L331.3 562.1 L331.9 559.6 L332.6 559.9 L334.5 562.7 L335.1 566.6 L335.8 570.2 L336.4 574.5 L337.0 581.4 L339.0 589.0 L339.6 597.2 L340.2 607.9 L340.9 615.1 L341.5 620.3 L343.4 621.9 L344.1 621.7 L344.7 623.0 L345.4 622.1 L346.0 622.1 L347.9 621.2 L348.5 619.8 L349.2 617.6 L349.8 616.5 L350.5 614.8 L352.4 610.0 L353.0 609.7 L353.7 609.6 L354.3 609.4 L354.9 609.2 L356.9 608.1 L357.5 608.8 L358.1 606.2 L358.8 604.3 L359.4 601.0 L361.3 596.8 L362.0 593.5 L362.6 590.6 L363.3 586.9 L363.9 585.2 L365.8 585.9 L366.5 585.8 L367.1 585.1 L367.7 583.9 L368.4 580.6 L370.3 575.7 L370.9 574.9 L371.6 576.1 L372.2 576.8 L372.9 576.5 L374.8 575.1 L375.4 573.9 L376.1 573.1 L376.7 572.9 L377.3 573.8 L379.2 571.8 L379.9 569.4 L380.5 568.4 L381.2 567.9 L381.8 567.7 L383.7 564.1 L384.4 560.8 L385.0 556.6 L385.6 553.6 L386.3 554.6 L388.2 558.2 L388.8 560.7 L389.5 561.5 L390.1 563.3 L390.8 564.4 L392.7 565.6 L393.3 562.9 L394.0 558.0 L394.6 550.0 L395.2 539.0 L397.2 520.6 L397.8 510.6 L398.4 506.4 L399.1 501.4 L399.7 495.4 L401.6 486.6 L402.3 476.1 L402.9 466.6 L403.6 457.3 L404.2 446.8 L406.1 435.6 L406.8 429.3 L407.4 425.5 L408.0 423.7 L408.7 415.4 L410.6 402.6 L411.2 391.9 L411.9 386.6 L412.5 386.2 L413.1 387.9 L415.1 387.2 L415.7 390.5 L416.3 395.0 L417.0 392.9 L417.6 385.1 L419.5 381.0 L420.2 380.5 L420.8 382.5 L421.5 387.4 L422.1 388.6 L424.0 385.8 L424.7 378.6 L425.3 374.8 L425.9 374.8 L426.6 377.9 L428.5 378.3 L429.1 371.7 L429.8 360.3 L430.4 350.8 L431.1 342.1 L433.0 330.4 L433.6 319.7 L434.3 310.8 L434.9 302.3 L435.5 298.7 L437.5 298.1 L438.1 293.5 L438.7 289.7 L439.4 285.0 L440.0 281.7 L441.9 300.6 L442.6 292.2 L443.2 279.4 L443.8 266.2 L444.5 251.2 L446.4 250.0 L447.0 262.0 L447.7 273.9 L448.3 278.2 L449.0 277.9 L450.9 275.5 L451.5 271.2 L452.2 277.2 L452.8 286.2 L453.4 294.3 L455.4 300.8 L456.0 307.7 L456.6 314.7 L457.3 321.0 L457.9 319.4 L459.8 314.2 L460.5 309.0 L461.1 303.7 L461.8 304.3 L462.4 308.1 L464.3 305.0 L465.0 300.4 L465.6 294.3 L466.2 291.4 L466.9 293.3 L468.8 296.6 L469.4 291.5 L470.1 283.7 L470.7 273.2 L471.4 264.1 L473.3 253.5 L473.9 243.2 L474.5 231.3 L475.2 215.8 L475.8 208.0 L477.7 201.9 L478.4 201.1 L479.0 205.3 L479.7 213.5 L480.3 224.4 L482.2 238.5 L482.9 251.5 L483.5 262.8 L484.1 270.2 L484.8 273.6 L486.7 273.9 L487.3 281.7 L488.0 292.0 L488.6 297.2 L489.3 299.7 L491.2 298.6 L491.8 295.4 L492.5 291.7 L493.1 288.0 L493.7 287.8 L495.7 277.6 L496.3 267.1 L496.9 258.2 L497.6 255.4 L498.2 263.0 L500.1 257.5 L500.8 250.4 L501.4 244.6 L502.1 244.0 L502.7 246.3 L504.6 251.1 L505.3 255.1 L505.9 258.8 L506.5 263.0 L507.2 272.7 L509.1 276.4 L509.7 278.9 L510.4 280.3 L511.0 284.4 L511.6 292.0 L513.6 302.9 L514.2 307.9 L514.8 311.9 L515.5 313.7 L516.1 314.0 L518.0 309.4 L518.7 305.0 L519.3 300.9 L520.0 296.7 L520.6 293.2 L522.5 290.8 L523.2 290.9 L523.8 294.1 L524.4 297.7 L525.1 303.1 L527.0 310.6 L527.6 315.9 L528.3 319.0 L528.9 321.5 L529.6 322.5 L531.5 319.7 L532.1 316.9 L532.8 313.1 L533.4 309.8 L534.0 307.9 L536.0 309.2 L536.6 305.8 L537.2 297.4 L537.9 298.1 L538.5 300.2 L540.4 302.9 L541.1 309.0 L541.7 312.3 L542.3 315.3 L543.0 319.0 L544.9 322.9 L545.5 324.9 L546.2 327.9 L546.8 330.5 L547.5 333.4 L549.4 345.0 L550.0 354.2 L550.7 362.3 L551.3 368.6 L551.9 374.7 L553.9 372.7 L554.5 367.6 L555.1 360.0 L555.8 351.6 L556.4 338.7 L558.3 325.0 L559.0 309.0 L559.6 294.4 L560.3 281.9 L560.9 265.0 L562.8 247.5 L563.5 232.4 L564.1 219.9 L564.7 209.9 L565.4 202.3 L567.3 196.0 L567.9 190.0 L568.6 182.7 L569.2 180.1 L569.8 179.7 L571.8 180.5 L572.4 179.1 L573.0 178.8 L573.7 178.3 L574.3 178.3 L576.2 165.7 L576.9 145.3 L577.5 130.5 L578.2 119.5 L578.8 110.2 L580.7 103.7 L581.4 105.0 L582.0 115.6 L582.6 135.2 L583.3 150.2 L585.2 155.2 L585.8 158.7 L586.5 159.9 L587.1 162.3 L587.8 166.2 L589.7 171.2 L590.3 176.2 L591.0 180.7 L591.6 189.1 L592.2 193.1 L594.2 196.0 L594.8 202.6 L595.4 211.4 L596.1 219.5 L596.7 227.2 L598.6 237.7 L599.3 247.3 L599.9 257.1 L600.6 265.9 L601.2 273.1 L603.1 278.0 L603.7 284.2 L604.4 291.3 L605.0 298.6 L605.7 298.9 L607.6 300.8 L608.2 303.6 L608.9 306.5 L609.5 308.0 L610.1 307.4 L612.1 309.2 L612.7 311.5 L613.3 315.1 L614.0 320.1 L614.6 326.7 L616.5 329.5 L617.2 331.8 L617.8 337.8 L618.5 344.2 L619.1 347.1 L621.0 344.3 L621.7 343.3 L622.3 343.5 L622.9 341.5 L623.6 339.6 L625.5 336.3 L626.1 338.7 L626.8 342.5 L627.4 345.8 L628.1 349.6 L630.0 355.0 L630.6 360.9 L631.3 365.1 L631.9 368.6 L632.5 369.6 L634.4 366.9 L635.1 365.3 L635.7 364.2 L636.4 365.1 L637.0 365.5 L638.9 362.0 L639.6 358.7 L640.2 355.1 L640.8 354.1 L641.5 355.4 L643.4 358.8 L644.0 362.6 L644.7 367.0 L645.3 371.8 L646.0 382.2 L647.9 392.1 L648.5 401.8 L649.2 410.0 L649.8 414.0 L650.4 413.4 L652.4 421.5 L653.0 428.9 L653.6 435.6 L654.3 441.5 L654.9 442.3 L656.8 442.0 L657.5 441.6 L658.1 442.1 L658.8 442.3 L659.4 441.8 L661.3 439.7 L662.0 436.3 L662.6 433.1 L663.2 429.5 L663.9 432.1 L665.8 436.5 L666.4 441.2 L667.1 442.5 L667.7 441.5 L668.3 438.2 L670.3 432.0 L670.9 427.8 L671.5 424.7 L672.2 418.2 L672.8 404.2 L674.7 388.3 L675.4 373.3 L676.0 362.4 L676.7 354.9 L677.3 349.3 L679.2 345.7 L679.9 346.6 L680.5 347.8 L681.1 346.3 L681.8 341.2 L683.7 334.0 L684.3 328.3 L685.0 324.1 L685.6 321.4 L686.3 320.5 L688.2 318.1 L688.8 315.0 L689.5 312.3 L690.1 314.0 L690.7 317.7 L692.7 324.2 L693.3 330.7 L693.9 337.0 L694.6 341.7 L695.2 346.3 L697.1 350.0 L697.8 349.1 L698.4 348.8 L699.0 349.6 L699.7 350.0 L701.6 349.4 L702.2 348.8 L702.9 348.4 L703.5 348.7 L704.2 355.1 L706.1 364.7 L706.7 370.1 L707.4 373.0 L708.0 373.4 L708.6 373.7 L710.6 376.5 L711.2 380.4 L711.8 383.6 L712.5 387.6 L713.1 382.0 L715.0 369.6 L715.7 363.4 L716.3 358.0 L717.0 353.8 L717.6 351.3 L719.5 351.0 L720.2 355.2 L720.8 360.8 L721.4 363.1 L722.1 363.4 L724.0 364.9 L724.6 360.1 L725.3 352.1 L725.9 346.7 L726.6 343.2 L728.5 348.4 L729.1 347.6 L729.8 341.1 L730.4 332.3 L731.0 324.3 L732.9 300.3 L733.6 281.6 L734.2 265.1 L734.9 250.6 L735.5 239.9 L737.4 229.7 L738.1 223.0 L738.7 218.2 L739.3 215.8 L740.0 215.4 L741.9 224.0 L742.5 232.8 L743.2 237.5 L743.8 239.0 L744.5 238.6 L746.4 234.5 L747.0 233.4 L747.7 234.6 L748.3 233.7 L748.9 229.2 L750.9 216.7 L751.5 204.0 L752.1 192.5 L752.8 182.4 L753.4 177.5 L755.3 177.8 L756.0 187.9 L756.6 196.5 L757.3 209.5 L757.9 217.8 L759.8 229.5 L760.5 238.5 L761.1 247.3 L761.7 256.1 L762.4 266.9 L764.3 272.3 L764.9 275.3 L765.6 279.4 L766.2 285.0 L766.8 290.1 L768.8 304.7 L769.4 311.9 L770.0 314.8 L770.7 315.0 L771.3 312.4 L773.2 305.4 L773.9 302.1 L774.5 300.1 L775.2 301.0 L775.8 303.2 L777.7 298.5 L778.4 292.3 L779.0 284.7 L779.6 277.4 L780.3 270.9 L782.2 260.8 L782.8 260.0 L783.5 261.9 L784.1 261.7 L784.8 257.1 L786.7 248.4 L787.3 238.0 L788.0 234.1 L788.6 237.6 L789.2 240.3 L791.2 240.9 L791.8 246.8 L792.4 253.5 L793.1 263.1 L793.7 273.4 L795.6 289.7 L796.3 301.3 L796.9 309.7 L797.5 315.7 L798.2 321.7 L800.1 327.6 L800.7 320.9 L801.4 309.3 L802.0 307.0 L802.7 311.8 L804.6 323.7 L805.2 337.8 L805.9 348.9 L806.5 358.3 L807.1 367.0 L809.1 380.6 L809.7 394.0 L810.3 406.1 L811.0 412.7 L811.6 415.0 L813.5 415.3 L814.2 414.8 L814.8 411.5 L815.5 408.9 L816.1 409.4 L818.0 412.1 L818.7 414.9 L819.3 416.7 L819.9 419.2 L820.6 420.1 L822.5 416.9 L823.1 404.8 L823.8 396.4 L824.4 391.2 L825.1 388.9 L827.0 384.9 L827.6 380.3 L828.2 375.9 L828.9 374.0 L829.5 374.3 L831.4 374.0 L832.1 373.2 L832.7 374.7 L833.4 376.8 L834.0 380.0 L835.9 383.5 L836.6 381.9 L837.2 380.2 L837.8 378.5 L838.5 375.8 L840.4 373.7 L841.0 369.5 L841.7 370.5 L842.3 370.6 L843.0 371.3 L844.9 374.8 L845.5 378.2 L846.2 382.7 L846.8 386.0 L847.4 390.2 L849.4 394.6 L850.0 399.1 L850.6 402.3 L851.3 405.5 L851.9 408.2 L853.8 414.3 L854.5 417.4 L855.1 419.2 L855.8 419.7 L856.4 419.4 L858.3 418.5 L858.9 415.8 L859.6 415.4 L860.2 416.9 L860.9 419.9 L862.8 426.5 L863.4 431.4 L864.1 437.0 L864.7 442.0 L865.3 446.3 L867.3 447.4 L867.9 450.0 L868.5 453.3 L869.2 457.8 L869.8 462.3 L871.7 467.1 L872.4 470.0 L873.0 471.4 L873.7 472.6 L874.3 471.5 L876.2 466.2 L876.9 459.1 L877.5 451.6 L878.1 447.3 L878.8 444.9 L880.7 440.9 L881.3 437.6 L882.0 435.0 L882.6 433.4 L883.3 431.8 L885.2 429.2 L885.8 427.4 L886.5 425.1 L887.1 422.9 L887.7 420.3 L889.6 418.2 L890.3 413.8 L890.9 409.0 L891.6 404.8 L892.2 401.1 L894.1 398.9 L894.8 397.6 L895.4 396.4 L896.0 395.4 L896.7 394.3 L898.6 392.7 L899.2 390.9 L899.9 389.0 L900.5 389.5 L901.2 390.6 L903.1 387.5 L903.7 383.9 L904.4 382.7 L905.0 382.6 L905.6 384.7 L907.6 389.5 L908.2 394.8 L908.8 394.2 L909.5 391.3 L910.1 386.8 L912.0 379.3 L912.7 374.2 L913.3 372.1 L914.0 372.5 L914.6 374.1 L916.5 381.1 L917.2 384.6 L917.8 385.9 L918.4 385.0 L919.1 382.6 L921.0 376.6 L921.6 371.4 L922.3 365.4 L922.9 362.3 L923.5 365.1 L925.5 364.8 L926.1 363.7 L926.7 361.9 L927.4 359.9 L928.0 355.6 L929.9 349.9 L930.6 347.2 L931.2 344.8 L931.9 343.9 L932.5 342.8 L934.4 338.0 L935.1 332.3 L935.7 326.5 L936.3 321.3 L937.0 310.3 L938.9 299.2 L939.5 288.8 L940.2 281.0 L940.8 273.3 L941.5 266.3 L943.4 260.8 L944.0 257.5 L944.7 255.2 L945.3 253.4 L945.9 252.1 L947.9 251.0 L948.5 250.2 L949.1 249.5 L949.8 249.1 L950.4 248.7 L952.3 248.4 L953.0 248.2 L953.6 248.0 L954.2 247.9 L954.9 247.8 L956.8 247.7 L957.4 247.6 L958.1 247.6 L958.7 247.6 L959.4 247.5 L961.3 247.4 L961.9 247.4 L962.6 247.3 L963.2 247.2 L963.8 247.1 L965.8 271.2 L966.4 304.4 L967.0 332.6 L967.7 347.0 L968.3 363.2 L970.2 365.1 L970.9 362.3 L971.5 354.8 L972.2 347.8 L972.8 334.4 L974.7 326.7 L975.4 324.3 L976.0 323.4 L976.6 320.4 L977.3 315.8 L979.2 308.3 L979.8 299.5 L980.5 289.0 L981.1 277.8 L981.8 265.3 L983.7 246.2 L984.3 242.5 L985.0 238.6 L985.6 234.3 L986.2 240.7 L988.1 236.2 L988.8 240.8 L989.4 247.0 L990.1 248.5 L990.7 247.0 L992.6 254.0 L993.3 251.6 L993.9 238.2 L994.5 229.5 L995.2 224.2 L997.1 217.2 L997.7 210.4 L998.4 208.3 L999.0 212.4 L999.7 214.0 L1001.6 210.7 L1002.2 208.9 L1002.9 213.4 L1003.5 223.6 L1004.1 234.1 L1006.1 240.8 L1006.7 245.8 L1007.3 251.7 L1008.0 257.0 L1008.6 262.7 L1010.5 270.6 L1011.2 274.3 L1011.8 275.6 L1012.5 274.8 L1013.1 276.8 L1015.0 282.2 L1015.7 288.5 L1016.3 294.1 L1016.9 298.7 L1017.6 302.5 L1019.5 306.2 L1020.1 311.4 L1020.8 317.7 L1021.4 321.2 L1022.0 322.7 L1024.0 322.4 L1024.6 330.8 L1025.2 337.1 L1025.9 343.2 L1026.5 347.8 L1028.4 355.0 L1029.1 360.9 L1029.7 364.8 L1030.4 367.1 L1031.0 368.0 L1032.9 373.6 L1033.6 379.1 L1034.2 381.3 L1034.8 381.5 L1035.5 379.3 L1037.4 369.8 L1038.0 359.6 L1038.7 346.5 L1039.3 331.7 L1040.0 321.2 L1041.9 314.4 L1042.5 319.0 L1043.2 323.2 L1043.8 327.0 L1044.4 331.6 L1046.4 337.8 L1047.0 340.7 L1047.6 341.9 L1048.3 341.7 L1048.9 346.1 L1050.8 355.7 L1051.5 358.7 L1052.1 348.2 L1052.7 352.2 L1053.4 356.1 L1055.3 360.5 L1055.9 358.6 L1056.6 363.7 L1057.2 368.0 L1057.9 373.0 L1059.8 374.9 L1060.4 373.7 L1061.1 372.1 L1061.7 372.6 L1062.3 374.2 L1064.3 365.3 L1064.9 356.0 L1065.5 343.2 L1066.2 327.9 L1066.8 313.6 L1068.7 306.7 L1069.4 304.8 L1070.0 305.5 L1070.7 306.4 L1071.3 305.5 L1073.2 303.6 L1073.9 299.1 L1074.5 295.6 L1075.1 293.5 L1075.8 292.4 L1077.7 293.7 L1078.3 296.1 L1079.0 298.0 L1079.6 299.5 L1080.3 299.5 L1082.2 301.9 L1082.8 303.8 L1083.4 305.4 L1084.1 307.0 L1084.7 309.8 L1086.6 314.3 L1087.3 318.9 L1087.9 323.5 L1088.6 327.5 L1089.2 331.7 L1091.1 335.9 L1091.8 338.3 L1092.4 339.0 L1093.0 337.9 L1093.7 335.2 L1095.6 322.9 L1096.2 302.0 L1096.9 287.2 L1097.5 277.5 L1098.2 272.4 L1100.1 270.8 L1100.7 270.2 L1101.4 270.2 L1102.0 270.5 L1102.6 271.8 L1104.6 274.3 L1105.2 273.5 L1105.8 272.2 L1106.5 270.0 L1107.1 265.8 L1109.0 259.9 L1109.7 251.8 L1110.3 239.2 L1111.0 234.5 L1111.6 234.2 L1113.5 247.3 L1114.1 263.0 L1114.8 279.9 L1115.4 287.8 L1116.1 291.0 L1118.0 291.8 L1118.6 291.8 L1119.3 291.0 L1119.9 289.7 L1120.5 288.0 L1122.5 282.0 L1123.1 271.8 L1123.7 261.3 L1124.4 256.2 L1125.0 253.2 L1126.9 248.2 L1127.6 239.6 L1128.2 238.1 L1128.9 239.9 L1129.5 242.3 L1131.4 246.7 L1132.1 249.4 L1132.7 250.2 L1133.3 250.9 L1134.0 254.0 L1135.9 258.2 L1136.5 266.2 L1137.2 273.2 L1137.8 282.1 L1138.5 293.1 L1140.4 303.9 L1141.0 310.6 L1141.7 314.6 L1142.3 316.1 L1142.9 317.0 L1144.9 319.0 L1145.5 319.8 L1146.1 319.7 L1146.8 318.6 L1147.4 317.1 L1149.3 313.8 L1150.0 314.1 L1150.6 316.0 L1151.2 317.9 L1151.9 320.1 L1153.8 323.4 L1154.4 327.2 L1155.1 330.4 L1155.7 332.1 L1156.4 334.0 L1158.3 335.7 L1158.9 335.5 L1159.6 333.3 L1160.2 332.1 L1160.8 331.8 L1162.8 332.9 L1163.4 332.9 L1164.0 332.9 L1164.7 333.7 L1165.3 335.0 L1167.2 337.3 L1167.9 342.3 L1168.5 347.4 L1169.2 350.8 L1169.8 351.4 L1171.7 350.6 L1172.4 349.7 L1173.0 348.4 L1173.6 346.3 L1174.3 344.8 L1176.2 342.2 L1176.8 339.6 L1177.5 337.9 L1178.1 335.5 L1178.7 333.4 L1180.7 330.3 L1181.3 329.0 L1181.9 326.5 L1182.6 325.1 L1183.2 322.4 L1185.1 319.9 L1185.8 317.1 L1186.4 315.6 L1187.1 314.2 L1187.7 313.0 L1189.6 308.3 L1190.3 305.6 L1190.9 305.2 L1191.5 305.5 L1192.2 305.6 L1194.1 303.5 L1194.7 301.6 L1195.4 299.0 L1196.0 297.1 L1196.7 295.7 L1198.6 297.3 L1199.2 299.6 L1199.9 302.1 L1200.5 304.6 L1201.1 306.7 L1203.1 309.8 L1203.7 315.1 L1204.3 316.1 L1205.0 317.9 L1205.6 319.1 L1207.5 321.4 L1208.2 322.9 L1208.8 325.4 L1209.4 327.2 L1210.1 329.8 L1212.0 333.3 L1212.6 338.9 L1213.3 343.5 L1213.9 347.4 L1214.6 350.8 L1216.5 356.0 L1217.1 360.1 L1217.8 362.9 L1218.4 362.9 L1219.0 363.6 L1221.0 367.3 L1221.6 375.0 L1222.2 377.1 L1222.9 377.1 L1223.5 376.4 L1225.4 377.3 L1226.1 377.0 L1226.7 376.0 L1227.4 374.6 L1228.0 375.9 L1229.9 379.7 L1230.6 385.3 L1231.2 391.8 L1231.8 398.2 L1232.5 404.8 L1234.4 412.3 L1235.0 419.1 L1235.7 425.2 L1236.3 431.3 L1237.0 437.4 L1238.9 439.2 L1239.5 441.6 L1240.2 446.8 L1240.8 452.7 L1241.4 459.9 L1243.3 470.1 L1244.0 473.1 L1244.6 473.8 L1245.3 473.1 L1245.9 471.0 L1247.8 466.8 L1248.5 462.0 L1249.1 458.4 L1249.7 455.8 L1250.4 453.7 L1252.3 452.5 L1252.9 453.6 L1253.6 454.9 L1254.2 455.8 L1254.9 456.3 L1256.8 456.4 L1257.4 458.0 L1258.1 459.4 L1258.7 461.8 L1259.3 464.5 L1261.3 471.0 L1261.9 475.7 L1262.5 479.2 L1263.2 481.5 L1263.8 482.3 L1265.7 487.2 L1266.4 490.0 L1267.0 490.2 L1267.7 489.0 L1268.3 486.6 L1270.2 486.1 L1270.9 485.9 L1271.5 485.8 L1272.1 484.6 L1272.8 483.9 L1274.7 482.0 L1275.3 478.7 L1276.0 476.2 L1276.6 473.0 L1277.2 471.6 L1279.2 473.0 L1279.8 475.6 L1280.4 478.1 L1281.1 479.7 L1281.7 480.7 L1283.6 480.3 L1284.3 481.3 L1284.9 484.3 L1285.6 487.4 L1286.2 489.2 L1288.1 489.6 L1288.8 490.2 L1289.4 492.3 L1290.0 494.5 L1290.7 497.3 L1292.6 497.9 L1293.2 499.3 L1293.9 500.1 L1294.5 502.7 L1295.2 503.3 L1297.1 500.1 L1297.7 497.5 L1298.4 495.7 L1299.0 494.6 L1299.6 492.6 L1301.6 498.1 L1302.2 504.2 L1302.8 512.6 L1303.5 519.4 L1304.1 525.2 L1306.0 532.5 L1306.7 540.7 L1307.3 545.0 L1307.9 547.5 L1308.6 548.0 L1310.5 547.1 L1311.1 546.8 L1311.8 546.6 L1312.4 545.8 L1313.1 543.3 L1315.0 539.8 L1315.6 538.9 L1316.3 539.8 L1316.9 540.7 L1317.5 540.9 L1319.5 540.1 L1320.1 540.4 L1320.7 541.8 L1321.4 544.2 L1322.0 548.0 L1323.9 554.9 L1324.6 550.3 L1325.2 546.0 L1325.9 540.9 L1326.5 534.7 L1328.4 534.7 L1329.1 536.1 L1329.7 538.3 L1330.3 540.4 L1331.0 542.0 L1332.9 538.6 L1333.5 535.6 L1334.2 533.4 L1334.8 531.8 L1335.5 531.8 L1337.4 532.8 L1338.0 533.6 L1338.6 534.8 L1339.3 531.4 L1339.9 522.9 L1341.8 504.8 L1342.5 488.3 L1343.1 469.6 L1343.8 452.5 L1344.4 441.9 L1346.3 431.0 L1347.0 420.8 L1347.6 410.3 L1348.2 400.6 L1348.9 398.0 L1350.8 397.1 L1351.4 398.1 L1352.1 398.3 L1352.7 398.7 L1353.4 398.6 L1355.3 398.5 L1355.9 399.4 L1356.6 399.8 L1357.2 402.0 L1357.8 403.9 L1359.8 401.2 L1360.4 398.9 L1361.0 396.7 L1361.7 393.6 L1362.3 393.8 L1364.2 399.1 L1364.9 399.4 L1365.5 398.5 L1366.2 398.9 L1366.8 402.6 L1368.7 396.3 L1369.3 393.0 L1370.0 394.3 L1370.6 397.5 L1371.3 405.8 L1373.2 404.4 L1373.8 397.5 L1374.5 394.8 L1375.1 395.8 L1375.7 400.6 L1377.7 402.0 L1378.3 398.8 L1378.9 391.3 L1379.6 383.0 L1380.2 380.2 L1382.1 383.0 L1382.8 388.3 L1383.4 392.4 L1384.1 394.3 L1384.7 395.5 L1386.6 395.6 L1387.3 395.3 L1387.9 396.5 L1388.5 398.8 L1389.2 401.5 L1391.1 407.0 L1391.7 413.9 L1392.4 422.6 L1393.0 430.8 L1393.7 441.1 L1395.6 455.8 L1396.2 464.0 L1396.9 468.4 L1397.5 471.2 L1398.1 481.1 L1400.1 492.0 L1400.7 503.0 L1401.3 509.3 L1402.0 512.2 L1402.6 512.7 L1404.5 514.3 L1405.2 519.0 L1405.8 517.7 L1406.4 506.4 L1407.1 499.6 L1409.0 498.8 L1409.6 491.4 L1410.3 481.9 L1410.9 477.8 L1411.6 481.2 L1413.5 484.9 L1414.1 488.1 L1414.8 490.8 L1415.4 493.0 L1416.0 494.1 L1418.0 495.4 L1418.6 492.7 L1419.2 489.1 L1419.9 483.6 L1420.5 476.6 L1422.4 467.5 L1423.1 452.1 L1423.7 442.5 L1424.4 436.5 L1425.0 431.2 L1426.9 428.1 L1427.6 432.8 L1428.2 440.3 L1428.8 450.3 L1429.5 461.6 L1431.4 467.6 L1432.0 470.3 L1432.7 472.4 L1433.3 470.5 L1433.9 467.2 L1435.9 457.8 L1436.5 449.7 L1437.1 442.4 L1437.8 436.3 L1438.4 431.4 L1440.3 426.7 L1441.0 419.3 L1441.6 415.3 L1442.3 413.4 L1442.9 412.4 L1444.8 415.6 L1445.5 419.4 L1446.1 423.6 L1446.7 426.8 L1447.4 433.0 L1449.3 435.5 L1449.9 436.3 L1450.6 436.9 L1451.2 435.4 L1451.9 429.5 L1453.8 418.3 L1454.4 407.0 L1455.1 397.0 L1455.7 394.5 L1456.3 396.5 L1458.3 389.5 L1458.9 379.7 L1459.5 367.2 L1460.2 352.2 L1460.8 342.6 L1462.7 339.4 L1463.4 338.8 L1464.0 339.8 L1464.7 339.1 L1465.3 334.1 L1467.2 324.1 L1467.8 318.2 L1468.5 314.9 L1469.1 313.9 L1469.8 310.6 L1471.7 301.8 L1472.3 300.7 L1473.0 299.3 L1473.6 298.7 L1474.2 297.1 L1476.2 294.7 L1476.8 292.2 L1477.4 290.2 L1478.1 288.1 L1478.7 285.8 L1480.6 277.8 L1481.3 274.6 L1481.9 272.1 L1482.6 268.0 L1483.2 262.5 L1485.1 254.7 L1485.8 257.3 L1486.4 265.7 L1487.0 281.6 L1487.7 298.8 L1489.6 308.5 L1490.2 317.4 L1490.9 324.5 L1491.5 330.4 L1492.2 336.2 L1494.1 342.4 L1494.7 345.0 L1495.4 345.6 L1496.0 343.9 L1496.6 337.6 L1498.5 329.0 L1499.2 321.1 L1499.8 312.2 L1500.5 305.5 L1501.1 296.8 L1503.0 288.0 L1503.7 281.1 L1504.3 278.1 L1504.9 277.8 L1505.6 279.4 L1507.5 287.3 L1508.1 294.7 L1508.8 301.4 L1509.4 308.7 L1510.1 315.5 L1512.0 323.3 L1512.6 334.6 L1513.3 341.7 L1513.9 345.7 L1514.5 348.2 L1516.5 350.5 L1517.1 352.4 L1517.7 353.5 L1518.4 354.6 L1519.0 355.9 L1520.9 351.5 L1521.6 344.7 L1522.2 336.3 L1522.9 326.6 L1523.5 311.6 L1525.4 295.4 L1526.1 281.5 L1526.7 263.4 L1527.3 244.9 L1528.0 221.2 L1529.9 203.5 L1530.5 190.1 L1531.2 181.7 L1531.8 176.8 L1532.4 160.8 L1534.4 141.0 L1535.0 141.1 L1535.6 148.4 L1536.3 157.8 L1536.9 155.7 L1538.8 170.1 L1539.5 165.8 L1540.1 153.5 L1540.8 153.6 L1541.4 159.8 L1543.3 170.7 L1544.0 180.5 L1544.6 196.0 L1545.2 210.3 L1545.9 219.9 L1547.8 232.2 L1548.4 238.6 L1549.1 241.7 L1549.7 242.5 L1550.4 244.3 L1552.3 248.1 L1552.9 252.0 L1553.6 255.1 L1554.2 257.6 L1554.8 261.9 L1556.8 264.0 L1557.4 264.2 L1558.0 263.1 L1558.7 260.8 L1559.3 257.5 L1561.2 246.8 L1561.9 233.3 L1562.5 217.8 L1563.1 206.1 L1563.8 196.4 L1565.7 178.3 L1566.3 168.9 L1567.0 165.3 L1567.6 164.6 L1568.3 163.8 L1570.2 167.8 L1570.8 173.2 L1571.5 178.3 L1572.1 185.0 L1572.7 191.5 L1574.7 202.0 L1575.3 212.9 L1575.9 221.6 L1576.6 230.8 L1577.2 234.5 L1579.1 233.1 L1579.8 228.9 L1580.4 221.0" fill="none" stroke="#3498db" stroke-opacity="0.72" stroke-width="2.8" stroke-linejoin="round" stroke-linecap="square"/>
<path d="M170.1 595.7 L170.7 595.7 L171.4 595.8 L173.3 596.2 L173.9 597.1 L174.6 597.8 L175.2 598.2 L175.9 598.2 L177.8 597.8 L178.4 597.2 L179.1 596.5 L179.7 596.0 L180.3 595.6 L182.3 595.0 L182.9 594.4 L183.5 593.8 L184.2 593.4 L184.8 593.3 L186.7 593.6 L187.4 594.5 L188.0 596.1 L188.6 597.6 L189.3 599.2 L191.2 601.1 L191.8 602.6 L192.5 603.6 L193.1 604.5 L193.8 605.1 L195.7 604.2 L196.3 603.0 L197.0 602.2 L197.6 602.0 L198.2 601.7 L200.2 601.7 L200.8 601.8 L201.4 602.4 L202.1 603.3 L202.7 604.5 L204.6 606.4 L205.3 608.3 L205.9 610.2 L206.6 612.1 L207.2 614.7 L209.1 617.0 L209.8 619.1 L210.4 621.2 L211.0 623.2 L211.7 625.1 L213.6 626.5 L214.2 628.9 L214.9 631.6 L215.5 635.3 L216.2 639.7 L218.1 644.6 L218.7 650.0 L219.3 655.9 L220.0 662.0 L220.6 666.8 L222.5 672.3 L223.2 677.1 L223.8 680.7 L224.5 683.8 L225.1 686.7 L227.0 689.7 L227.7 692.4 L228.3 694.8 L228.9 697.0 L229.6 698.9 L231.5 700.4 L232.1 701.7 L232.8 702.8 L233.4 703.9 L234.1 705.1 L236.0 706.1 L236.6 706.8 L237.3 707.3 L237.9 707.8 L238.5 708.3 L240.5 708.8 L241.1 709.0 L241.7 709.4 L242.4 709.7 L243.0 709.9 L244.9 710.2 L245.6 710.5 L246.2 710.8 L246.9 711.0 L247.5 711.4 L249.4 711.5 L250.0 711.8 L250.7 712.1 L251.3 712.4 L252.0 712.8 L253.9 713.3 L254.5 713.7 L255.2 714.2 L255.8 714.8 L256.4 715.3 L258.4 715.0 L259.0 714.5 L259.6 713.9 L260.3 713.3 L260.9 713.1 L262.8 712.4 L263.5 711.4 L264.1 710.2 L264.8 709.6 L265.4 709.3 L267.3 709.7 L268.0 709.9 L268.6 709.9 L269.2 709.8 L269.9 709.7 L271.8 709.2 L272.4 708.9 L273.1 708.8 L273.7 708.9 L274.4 709.2 L276.3 710.3 L276.9 711.3 L277.6 711.8 L278.2 712.2 L278.8 712.7 L280.8 713.2 L281.4 713.8 L282.0 714.5 L282.7 715.2 L283.3 715.9 L285.2 716.8 L285.9 717.3 L286.5 717.5 L287.1 717.6 L287.8 717.4 L289.7 716.9 L290.3 715.5 L291.0 713.4 L291.6 711.9 L292.3 711.0 L294.2 709.3 L294.8 708.0 L295.5 706.9 L296.1 706.2 L296.7 705.1 L298.7 703.3 L299.3 699.3 L299.9 694.8 L300.6 691.2 L301.2 688.9 L303.1 686.1 L303.8 682.7 L304.4 679.1 L305.1 674.9 L305.7 670.9 L307.6 666.8 L308.3 663.2 L308.9 660.1 L309.5 657.2 L310.2 654.2 L312.1 650.9 L312.7 647.5 L313.4 644.3 L314.0 641.6 L314.6 639.4 L316.6 637.7 L317.2 636.1 L317.8 634.6 L318.5 632.9 L319.1 631.4 L321.0 628.6 L321.7 625.4 L322.3 623.0 L323.0 621.5 L323.6 620.0 L325.5 618.2 L326.2 616.2 L326.8 614.1 L327.4 612.0 L328.1 609.9 L330.0 607.4 L330.6 604.8 L331.3 602.0 L331.9 599.5 L332.6 597.6 L334.5 596.3 L335.1 595.5 L335.8 594.7 L336.4 594.4 L337.0 594.8 L339.0 595.6 L339.6 596.9 L340.2 599.0 L340.9 600.8 L341.5 602.5 L343.4 603.7 L344.1 604.6 L344.7 605.7 L345.4 606.3 L346.0 607.1 L347.9 607.6 L348.5 608.0 L349.2 608.2 L349.8 608.4 L350.5 608.5 L352.4 607.8 L353.0 607.9 L353.7 608.0 L354.3 608.0 L354.9 608.0 L356.9 607.9 L357.5 608.0 L358.1 607.6 L358.8 607.1 L359.4 606.3 L361.3 605.3 L362.0 604.2 L362.6 603.1 L363.3 601.8 L363.9 600.7 L365.8 600.1 L366.5 599.4 L367.1 598.6 L367.7 597.7 L368.4 596.4 L370.3 594.7 L370.9 593.6 L371.6 592.9 L372.2 592.2 L372.9 591.4 L374.8 590.4 L375.4 589.4 L376.1 588.5 L376.7 587.7 L377.3 587.2 L379.2 586.1 L379.9 585.0 L380.5 584.0 L381.2 583.1 L381.8 582.4 L383.7 580.9 L384.4 579.5 L385.0 577.8 L385.6 576.1 L386.3 575.2 L388.2 574.9 L388.8 574.6 L389.5 574.1 L390.1 573.8 L390.8 573.5 L392.7 573.3 L393.3 572.4 L394.0 571.0 L394.6 568.8 L395.2 565.7 L397.2 560.8 L397.8 556.9 L398.4 553.8 L399.1 550.6 L399.7 547.0 L401.6 542.7 L402.3 538.0 L402.9 533.1 L403.6 528.0 L404.2 522.5 L406.1 516.7 L406.8 511.5 L407.4 506.7 L408.0 502.4 L408.7 497.0 L410.6 490.5 L411.2 484.1 L411.9 478.6 L412.5 474.0 L413.1 470.1 L415.1 465.9 L415.7 462.7 L416.3 460.1 L417.0 456.5 L417.6 451.9 L419.5 447.8 L420.2 444.4 L420.8 441.7 L421.5 439.8 L422.1 437.5 L424.0 434.5 L424.7 430.8 L425.3 427.5 L425.9 424.9 L426.6 423.1 L428.5 420.9 L429.1 417.6 L429.8 413.1 L430.4 408.7 L431.1 404.2 L433.0 398.8 L433.6 393.4 L434.3 388.1 L434.9 382.7 L435.5 378.0 L437.5 374.1 L438.1 369.4 L438.7 365.0 L439.4 360.4 L440.0 356.1 L441.9 356.1 L442.6 351.8 L443.2 346.4 L443.8 340.5 L444.5 334.0 L446.4 329.7 L447.0 328.2 L447.7 327.3 L448.3 325.5 L449.0 323.1 L450.9 320.5 L451.5 317.4 L452.2 316.3 L452.8 316.2 L453.4 316.3 L455.4 316.5 L456.0 317.1 L456.6 318.0 L457.3 319.1 L457.9 318.8 L459.8 317.9 L460.5 316.7 L461.1 315.2 L461.8 314.8 L462.4 315.0 L464.3 314.1 L465.0 312.8 L465.6 311.0 L466.2 309.6 L466.9 309.1 L468.8 308.9 L469.4 307.4 L470.1 305.1 L470.7 302.0 L471.4 298.8 L473.3 295.0 L473.9 291.0 L474.5 286.3 L475.2 280.6 L475.8 275.9 L477.7 271.4 L478.4 267.9 L479.0 265.4 L479.7 264.1 L480.3 263.8 L482.2 264.6 L482.9 265.9 L483.5 267.4 L484.1 268.6 L484.8 269.3 L486.7 269.6 L487.3 271.3 L488.0 273.8 L488.6 275.7 L489.3 277.3 L491.2 278.2 L491.8 278.5 L492.5 278.6 L493.1 278.5 L493.7 279.0 L495.7 277.4 L496.3 275.4 L496.9 273.2 L497.6 272.0 L498.2 272.6 L500.1 271.1 L500.8 269.0 L501.4 267.0 L502.1 265.8 L502.7 265.2 L504.6 265.2 L505.3 265.3 L505.9 265.5 L506.5 266.0 L507.2 267.7 L509.1 268.7 L509.7 269.6 L510.4 270.3 L511.0 271.6 L511.6 273.7 L513.6 276.7 L514.2 279.0 L514.8 281.2 L515.5 283.0 L516.1 284.6 L518.0 285.1 L518.7 285.4 L519.3 285.6 L520.0 285.5 L520.6 285.4 L522.5 285.3 L523.2 285.6 L523.8 286.5 L524.4 287.5 L525.1 289.1 L527.0 291.2 L527.6 293.2 L528.3 294.9 L528.9 296.6 L529.6 298.0 L531.5 298.6 L532.1 299.1 L532.8 299.3 L533.4 299.3 L534.0 299.4 L536.0 300.1 L536.6 299.9 L537.2 298.5 L537.9 298.6 L538.5 299.0 L540.4 299.6 L541.1 300.9 L541.7 302.0 L542.3 303.1 L543.0 304.4 L544.9 305.8 L545.5 307.1 L546.2 308.5 L546.8 310.0 L547.5 311.5 L549.4 314.9 L550.0 318.1 L550.7 321.5 L551.3 324.7 L551.9 328.0 L553.9 329.9 L554.5 331.0 L555.1 331.3 L555.8 331.1 L556.4 329.5 L558.3 327.3 L559.0 324.1 L559.6 320.5 L560.3 316.8 L560.9 311.8 L562.8 306.1 L563.5 300.3 L564.1 294.5 L564.7 288.9 L565.4 283.6 L567.3 278.4 L567.9 273.2 L568.6 267.7 L569.2 263.1 L569.8 259.0 L571.8 255.3 L572.4 251.3 L573.0 247.7 L573.7 244.3 L574.3 241.1 L576.2 235.5 L576.9 228.2 L577.5 221.2 L578.2 214.7 L578.8 208.2 L580.7 202.2 L581.4 197.6 L582.0 195.2 L582.6 195.1 L583.3 195.1 L585.2 193.9 L585.8 192.7 L586.5 191.3 L587.1 190.2 L587.8 189.6 L589.7 189.4 L590.3 189.5 L591.0 189.7 L591.6 190.9 L592.2 191.6 L594.2 192.3 L594.8 193.7 L595.4 195.9 L596.1 198.2 L596.7 200.8 L598.6 204.1 L599.3 207.6 L599.9 211.5 L600.6 215.4 L601.2 219.3 L603.1 222.9 L603.7 226.8 L604.4 231.0 L605.0 235.3 L605.7 238.5 L607.6 241.8 L608.2 245.2 L608.9 248.6 L609.5 251.7 L610.1 254.4 L612.1 257.3 L612.7 260.3 L613.3 263.5 L614.0 267.0 L614.6 270.9 L616.5 274.1 L617.2 277.3 L617.8 281.1 L618.5 285.1 L619.1 288.6 L621.0 290.9 L621.7 293.3 L622.3 295.8 L622.9 297.7 L623.6 299.5 L625.5 300.8 L626.1 303.0 L626.8 305.5 L627.4 307.9 L628.1 310.5 L630.0 313.5 L630.6 316.7 L631.3 319.6 L631.9 322.5 L632.5 325.0 L634.4 326.6 L635.1 328.3 L635.7 329.9 L636.4 331.7 L637.0 333.4 L638.9 334.3 L639.6 335.0 L640.2 335.5 L640.8 336.2 L641.5 337.4 L643.4 338.9 L644.0 340.6 L644.7 342.5 L645.3 344.7 L646.0 348.0 L647.9 351.6 L648.5 355.5 L649.2 359.4 L649.8 362.6 L650.4 365.0 L652.4 368.9 L653.0 373.0 L653.6 377.0 L654.3 381.0 L654.9 384.1 L656.8 386.9 L657.5 389.5 L658.1 392.1 L658.8 394.6 L659.4 396.8 L661.3 398.6 L662.0 400.0 L662.6 401.1 L663.2 402.0 L663.9 403.8 L665.8 406.1 L666.4 408.5 L667.1 410.3 L667.7 411.7 L668.3 412.5 L670.3 412.5 L670.9 412.7 L671.5 412.8 L672.2 412.1 L672.8 409.7 L674.7 406.3 L675.4 402.5 L676.0 398.9 L676.7 395.7 L677.3 392.6 L679.2 389.8 L679.9 387.8 L680.5 386.1 L681.1 383.9 L681.8 381.1 L683.7 377.7 L684.3 374.5 L685.0 371.4 L685.6 368.6 L686.3 366.1 L688.2 363.4 L688.8 360.6 L689.5 357.8 L690.1 355.9 L690.7 354.6 L692.7 354.1 L693.3 353.9 L693.9 354.0 L694.6 354.1 L695.2 354.4 L697.1 354.7 L697.8 354.3 L698.4 354.0 L699.0 353.9 L699.7 353.8 L701.6 353.5 L702.2 353.1 L702.9 352.8 L703.5 352.7 L704.2 353.7 L706.1 355.7 L706.7 357.2 L707.4 358.4 L708.0 359.2 L708.6 359.9 L710.6 361.1 L711.2 362.7 L711.8 364.1 L712.5 365.9 L713.1 365.8 L715.0 364.2 L715.7 363.3 L716.3 362.2 L717.0 361.2 L717.6 360.3 L719.5 359.8 L720.2 360.2 L720.8 361.1 L721.4 361.5 L722.1 361.6 L724.0 362.0 L724.6 361.2 L725.3 359.6 L725.9 358.2 L726.6 356.9 L728.5 357.3 L729.1 356.7 L729.8 355.0 L730.4 352.6 L731.0 350.0 L732.9 344.1 L733.6 338.3 L734.2 332.3 L734.9 326.2 L735.5 320.4 L737.4 314.5 L738.1 309.1 L738.7 303.9 L739.3 299.3 L740.0 295.1 L741.9 292.9 L742.5 291.3 L743.2 289.3 L743.8 287.1 L744.5 284.7 L746.4 281.6 L747.0 279.1 L747.7 277.1 L748.3 274.9 L748.9 272.0 L750.9 267.5 L751.5 262.5 L752.1 257.4 L752.8 252.3 L753.4 247.9 L755.3 244.5 L756.0 243.2 L756.6 242.2 L757.3 242.5 L757.9 242.5 L759.8 243.6 L760.5 244.7 L761.1 246.1 L761.7 247.9 L762.4 250.4 L764.3 252.2 L764.9 253.8 L765.6 255.7 L766.2 257.9 L766.8 260.2 L768.8 264.5 L769.4 267.9 L770.0 270.6 L770.7 272.8 L771.3 274.4 L773.2 274.9 L773.9 275.7 L774.5 276.6 L775.2 277.9 L775.8 279.5 L777.7 279.7 L778.4 279.4 L779.0 278.6 L779.6 277.4 L780.3 276.2 L782.2 273.9 L782.8 273.1 L783.5 272.9 L784.1 272.3 L784.8 270.9 L786.7 268.5 L787.3 265.5 L788.0 263.4 L788.6 262.7 L789.2 262.0 L791.2 261.0 L791.8 261.2 L792.4 261.8 L793.1 263.3 L793.7 265.3 L795.6 268.8 L796.3 272.1 L796.9 275.2 L797.5 278.0 L798.2 281.0 L800.1 284.2 L800.7 285.0 L801.4 284.5 L802.0 285.2 L802.7 287.2 L804.6 290.8 L805.2 295.1 L805.9 299.4 L806.5 303.6 L807.1 308.0 L809.1 313.5 L809.7 319.4 L810.3 325.4 L811.0 330.6 L811.6 335.1 L813.5 339.0 L814.2 342.7 L814.8 345.5 L815.5 348.2 L816.1 351.3 L818.0 354.7 L818.7 358.0 L819.3 361.1 L819.9 364.3 L820.6 367.2 L822.5 369.2 L823.1 369.1 L823.8 369.2 L824.4 369.5 L825.1 370.1 L827.0 370.3 L827.6 370.1 L828.2 369.7 L828.9 369.7 L829.5 369.9 L831.4 370.1 L832.1 370.1 L832.7 370.6 L833.4 371.2 L834.0 372.1 L835.9 373.1 L836.6 373.3 L837.2 373.4 L837.8 373.4 L838.5 373.1 L840.4 372.9 L841.0 372.1 L841.7 372.2 L842.3 372.1 L843.0 372.2 L844.9 372.8 L845.5 373.6 L846.2 374.7 L846.8 375.7 L847.4 377.0 L849.4 378.5 L850.0 380.2 L850.6 381.7 L851.3 383.4 L851.9 385.0 L853.8 387.3 L854.5 389.2 L855.1 390.9 L855.8 392.4 L856.4 393.7 L858.3 394.8 L858.9 395.4 L859.6 396.3 L860.2 397.5 L860.9 399.1 L862.8 401.4 L863.4 403.6 L864.1 406.0 L864.7 408.5 L865.3 411.0 L867.3 412.9 L867.9 415.1 L868.5 417.4 L869.2 420.1 L869.8 422.8 L871.7 425.7 L872.4 428.2 L873.0 430.5 L873.7 432.8 L874.3 434.5 L876.2 435.3 L876.9 435.4 L877.5 435.1 L878.1 435.0 L878.8 435.2 L880.7 434.9 L881.3 434.5 L882.0 434.2 L882.6 433.9 L883.3 433.6 L885.2 433.0 L885.8 432.4 L886.5 431.7 L887.1 431.0 L887.7 430.1 L889.6 429.2 L890.3 427.8 L890.9 426.2 L891.6 424.5 L892.2 422.8 L894.1 421.3 L894.8 420.0 L895.4 418.7 L896.0 417.4 L896.7 416.1 L898.6 414.7 L899.2 413.3 L899.9 411.8 L900.5 410.8 L901.2 410.0 L903.1 408.4 L903.7 406.7 L904.4 405.4 L905.0 404.2 L905.6 403.6 L907.6 403.6 L908.2 404.0 L908.8 403.4 L909.5 402.4 L910.1 401.0 L912.0 398.8 L912.7 396.9 L913.3 395.4 L914.0 394.3 L914.6 393.5 L916.5 394.0 L917.2 394.0 L917.8 393.8 L918.4 393.3 L919.1 392.4 L921.0 390.7 L921.6 389.0 L922.3 387.0 L922.9 385.3 L923.5 384.8 L925.5 383.7 L926.1 382.6 L926.7 381.3 L927.4 380.0 L928.0 378.2 L929.9 376.0 L930.6 374.2 L931.2 372.4 L931.9 370.9 L932.5 369.3 L934.4 367.1 L935.1 364.6 L935.7 361.9 L936.3 359.1 L937.0 355.1 L938.9 350.8 L939.5 346.2 L940.2 341.9 L940.8 337.4 L941.5 332.9 L943.4 328.6 L944.0 324.7 L944.7 320.9 L945.3 317.4 L945.9 314.0 L947.9 310.8 L948.5 307.7 L949.1 304.8 L949.8 302.0 L950.4 299.3 L952.3 296.8 L953.0 294.4 L953.6 292.1 L954.2 289.9 L954.9 287.9 L956.8 285.9 L957.4 284.0 L958.1 282.2 L958.7 280.5 L959.4 278.9 L961.3 277.4 L961.9 275.9 L962.6 274.5 L963.2 273.1 L963.8 271.9 L965.8 275.3 L966.4 281.6 L967.0 288.2 L967.7 293.2 L968.3 299.0 L970.2 302.5 L970.9 305.0 L971.5 306.3 L972.2 307.3 L972.8 306.7 L974.7 306.5 L975.4 307.1 L976.0 307.7 L976.6 307.9 L977.3 307.6 L979.2 306.6 L979.8 304.9 L980.5 302.6 L981.1 299.8 L981.8 296.3 L983.7 291.0 L984.3 288.1 L985.0 285.1 L985.6 282.0 L986.2 280.9 L988.1 278.1 L988.8 276.9 L989.4 276.4 L990.1 275.3 L990.7 273.6 L992.6 273.7 L993.3 272.3 L993.9 268.7 L994.5 265.5 L995.2 262.7 L997.1 259.5 L997.7 256.1 L998.4 253.4 L999.0 252.0 L999.7 250.4 L1001.6 248.0 L1002.2 245.8 L1002.9 244.9 L1003.5 245.4 L1004.1 246.3 L1006.1 247.0 L1006.7 247.7 L1007.3 248.8 L1008.0 250.0 L1008.6 251.4 L1010.5 253.5 L1011.2 255.1 L1011.8 256.3 L1012.5 257.0 L1013.1 258.3 L1015.0 260.2 L1015.7 262.5 L1016.3 264.9 L1016.9 267.2 L1017.6 269.5 L1019.5 271.8 L1020.1 274.5 L1020.8 277.6 L1021.4 280.2 L1022.0 282.5 L1024.0 284.4 L1024.6 287.9 L1025.2 291.2 L1025.9 294.6 L1026.5 297.9 L1028.4 301.7 L1029.1 305.5 L1029.7 309.0 L1030.4 312.1 L1031.0 315.0 L1032.9 318.7 L1033.6 322.4 L1034.2 325.6 L1034.8 328.4 L1035.5 330.5 L1037.4 331.1 L1038.0 331.0 L1038.7 329.8 L1039.3 327.7 L1040.0 325.9 L1041.9 324.3 L1042.5 324.7 L1043.2 325.3 L1043.8 325.9 L1044.4 326.9 L1046.4 328.3 L1047.0 329.3 L1047.6 330.1 L1048.3 330.7 L1048.9 332.1 L1050.8 334.6 L1051.5 336.2 L1052.1 335.3 L1052.7 336.7 L1053.4 338.2 L1055.3 339.9 L1055.9 340.6 L1056.6 342.4 L1057.2 344.3 L1057.9 346.5 L1059.8 348.1 L1060.4 349.2 L1061.1 350.1 L1061.7 351.3 L1062.3 352.6 L1064.3 351.9 L1064.9 350.8 L1065.5 348.5 L1066.2 345.3 L1066.8 341.6 L1068.7 338.9 L1069.4 337.0 L1070.0 335.5 L1070.7 334.2 L1071.3 332.7 L1073.2 331.0 L1073.9 328.8 L1074.5 326.7 L1075.1 324.7 L1075.8 323.0 L1077.7 321.8 L1078.3 320.9 L1079.0 320.0 L1079.6 319.2 L1080.3 318.3 L1082.2 317.8 L1082.8 317.4 L1083.4 317.1 L1084.1 316.8 L1084.7 316.9 L1086.6 317.4 L1087.3 318.2 L1087.9 319.1 L1088.6 320.1 L1089.2 321.3 L1091.1 322.6 L1091.8 323.7 L1092.4 324.6 L1093.0 325.1 L1093.7 325.1 L1095.6 323.2 L1096.2 319.1 L1096.9 315.4 L1097.5 312.1 L1098.2 309.5 L1100.1 307.3 L1100.7 305.4 L1101.4 303.7 L1102.0 302.1 L1102.6 300.9 L1104.6 299.9 L1105.2 298.5 L1105.8 297.0 L1106.5 295.4 L1107.1 293.4 L1109.0 290.8 L1109.7 287.8 L1110.3 283.5 L1111.0 280.5 L1111.6 278.2 L1113.5 278.6 L1114.1 280.1 L1114.8 282.6 L1115.4 284.0 L1116.1 284.8 L1118.0 285.3 L1118.6 285.6 L1119.3 285.7 L1119.9 285.7 L1120.5 285.6 L1122.5 284.5 L1123.1 282.4 L1123.7 279.9 L1124.4 278.0 L1125.0 276.3 L1126.9 274.2 L1127.6 271.3 L1128.2 269.4 L1128.9 268.2 L1129.5 267.3 L1131.4 267.0 L1132.1 266.5 L1132.7 265.8 L1133.3 265.2 L1134.0 265.1 L1135.9 265.4 L1136.5 266.6 L1137.2 268.0 L1137.8 269.9 L1138.5 272.7 L1140.4 275.8 L1141.0 278.5 L1141.7 280.8 L1142.3 282.8 L1142.9 284.6 L1144.9 286.5 L1145.5 288.3 L1146.1 289.8 L1146.8 291.0 L1147.4 292.1 L1149.3 292.7 L1150.0 293.8 L1150.6 295.1 L1151.2 296.5 L1151.9 298.0 L1153.8 299.7 L1154.4 301.6 L1155.1 303.5 L1155.7 305.1 L1156.4 306.8 L1158.3 308.5 L1158.9 309.8 L1159.6 310.6 L1160.2 311.5 L1160.8 312.4 L1162.8 313.6 L1163.4 314.5 L1164.0 315.4 L1164.7 316.4 L1165.3 317.5 L1167.2 318.8 L1167.9 320.7 L1168.5 322.7 L1169.2 324.6 L1169.8 326.0 L1171.7 327.1 L1172.4 328.1 L1173.0 328.9 L1173.6 329.4 L1174.3 329.9 L1176.2 330.1 L1176.8 330.2 L1177.5 330.4 L1178.1 330.3 L1178.7 330.1 L1180.7 329.7 L1181.3 329.4 L1181.9 328.9 L1182.6 328.5 L1183.2 327.8 L1185.1 327.1 L1185.8 326.2 L1186.4 325.5 L1187.1 324.7 L1187.7 323.9 L1189.6 322.5 L1190.3 321.3 L1190.9 320.4 L1191.5 319.8 L1192.2 319.1 L1194.1 318.0 L1194.7 316.9 L1195.4 315.7 L1196.0 314.5 L1196.7 313.4 L1198.6 312.8 L1199.2 312.5 L1199.9 312.4 L1200.5 312.4 L1201.1 312.4 L1203.1 312.7 L1203.7 313.6 L1204.3 313.9 L1205.0 314.3 L1205.6 314.8 L1207.5 315.4 L1208.2 316.0 L1208.8 316.8 L1209.4 317.6 L1210.1 318.6 L1212.0 319.8 L1212.6 321.5 L1213.3 323.3 L1213.9 325.0 L1214.6 326.8 L1216.5 329.0 L1217.1 331.1 L1217.8 333.1 L1218.4 334.5 L1219.0 336.0 L1221.0 338.1 L1221.6 341.0 L1222.2 343.1 L1222.9 344.8 L1223.5 346.2 L1225.4 347.8 L1226.1 349.2 L1226.7 350.4 L1227.4 351.4 L1228.0 352.7 L1229.9 354.6 L1230.6 356.9 L1231.2 359.6 L1231.8 362.4 L1232.5 365.4 L1234.4 368.8 L1235.0 372.3 L1235.7 375.7 L1236.3 379.3 L1237.0 383.1 L1238.9 386.1 L1239.5 389.1 L1240.2 392.7 L1240.8 396.5 L1241.4 400.7 L1243.3 405.5 L1244.0 409.3 L1244.6 412.5 L1245.3 415.4 L1245.9 417.8 L1247.8 419.5 L1248.5 420.9 L1249.1 422.2 L1249.7 423.5 L1250.4 424.6 L1252.3 425.8 L1252.9 427.3 L1253.6 428.9 L1254.2 430.3 L1254.9 431.7 L1256.8 432.9 L1257.4 434.3 L1258.1 435.8 L1258.7 437.4 L1259.3 439.1 L1261.3 441.6 L1261.9 444.0 L1262.5 446.2 L1263.2 448.3 L1263.8 450.0 L1265.7 452.6 L1266.4 454.8 L1267.0 456.5 L1267.7 458.0 L1268.3 459.0 L1270.2 460.2 L1270.9 461.5 L1271.5 462.6 L1272.1 463.5 L1272.8 464.4 L1274.7 465.0 L1275.3 465.2 L1276.0 465.4 L1276.6 465.3 L1277.2 465.4 L1279.2 465.9 L1279.8 466.8 L1280.4 467.7 L1281.1 468.5 L1281.7 469.3 L1283.6 469.8 L1284.3 470.5 L1284.9 471.6 L1285.6 472.8 L1286.2 473.9 L1288.1 474.7 L1288.8 475.5 L1289.4 476.7 L1290.0 477.9 L1290.7 479.2 L1292.6 480.2 L1293.2 481.3 L1293.9 482.4 L1294.5 483.7 L1295.2 484.8 L1297.1 485.1 L1297.7 485.3 L1298.4 485.6 L1299.0 485.8 L1299.6 485.9 L1301.6 487.3 L1302.2 489.0 L1302.8 491.4 L1303.5 493.7 L1304.1 496.1 L1306.0 499.0 L1306.7 502.2 L1307.3 504.9 L1307.9 507.4 L1308.6 509.4 L1310.5 511.1 L1311.1 512.8 L1311.8 514.4 L1312.4 515.8 L1313.1 516.8 L1315.0 517.4 L1315.6 518.3 L1316.3 519.5 L1316.9 520.7 L1317.5 521.7 L1319.5 522.5 L1320.1 523.4 L1320.7 524.5 L1321.4 525.8 L1322.0 527.5 L1323.9 529.8 L1324.6 530.1 L1325.2 530.3 L1325.9 530.0 L1326.5 529.4 L1328.4 529.6 L1329.1 530.1 L1329.7 530.9 L1330.3 531.6 L1331.0 532.4 L1332.9 532.2 L1333.5 531.9 L1334.2 531.7 L1334.8 531.4 L1335.5 531.5 L1337.4 531.7 L1338.0 531.9 L1338.6 532.2 L1339.3 531.6 L1339.9 530.0 L1341.8 526.1 L1342.5 521.8 L1343.1 516.6 L1343.8 510.9 L1344.4 506.0 L1346.3 500.8 L1347.0 495.4 L1347.6 489.7 L1348.2 483.9 L1348.9 479.3 L1350.8 475.2 L1351.4 471.6 L1352.1 468.0 L1352.7 464.7 L1353.4 461.5 L1355.3 458.4 L1355.9 455.6 L1356.6 453.0 L1357.2 450.8 L1357.8 448.8 L1359.8 446.1 L1360.4 443.4 L1361.0 440.8 L1361.7 438.1 L1362.3 435.9 L1364.2 434.9 L1364.9 433.2 L1365.5 431.4 L1366.2 429.9 L1366.8 429.1 L1368.7 426.6 L1369.3 424.5 L1370.0 423.2 L1370.6 422.4 L1371.3 422.8 L1373.2 421.7 L1373.8 419.5 L1374.5 417.9 L1375.1 417.0 L1375.7 416.9 L1377.7 416.4 L1378.3 415.0 L1378.9 412.8 L1379.6 410.1 L1380.2 408.2 L1382.1 407.4 L1382.8 407.3 L1383.4 407.1 L1384.1 406.8 L1384.7 406.4 L1386.6 405.9 L1387.3 405.3 L1387.9 405.1 L1388.5 405.1 L1389.2 405.3 L1391.1 406.2 L1391.7 407.6 L1392.4 409.6 L1393.0 411.9 L1393.7 414.8 L1395.6 418.9 L1396.2 422.3 L1396.9 425.2 L1397.5 427.9 L1398.1 431.9 L1400.1 436.4 L1400.7 441.3 L1401.3 445.5 L1402.0 449.2 L1402.6 452.4 L1404.5 455.6 L1405.2 459.4 L1405.8 462.1 L1406.4 462.6 L1407.1 463.4 L1409.0 465.0 L1409.6 465.2 L1410.3 464.6 L1410.9 464.7 L1411.6 466.0 L1413.5 467.4 L1414.1 468.9 L1414.8 470.4 L1415.4 471.8 L1416.0 473.1 L1418.0 474.3 L1418.6 474.8 L1419.2 475.0 L1419.9 474.6 L1420.5 473.7 L1422.4 472.1 L1423.1 468.8 L1423.7 466.1 L1424.4 463.8 L1425.0 461.4 L1426.9 459.4 L1427.6 458.8 L1428.2 459.0 L1428.8 460.0 L1429.5 461.7 L1431.4 462.9 L1432.0 463.7 L1432.7 464.4 L1433.3 464.4 L1433.9 464.1 L1435.9 462.4 L1436.5 460.6 L1437.1 458.6 L1437.8 456.6 L1438.4 454.7 L1440.3 452.6 L1441.0 449.9 L1441.6 447.7 L1442.3 445.7 L1442.9 443.9 L1444.8 443.0 L1445.5 442.4 L1446.1 442.1 L1446.7 441.8 L1447.4 442.3 L1449.3 442.3 L1449.9 442.2 L1450.6 442.0 L1451.2 441.5 L1451.9 440.0 L1453.8 437.3 L1454.4 434.2 L1455.1 430.9 L1455.7 428.8 L1456.3 427.5 L1458.3 424.6 L1458.9 421.0 L1459.5 416.5 L1460.2 411.2 L1460.8 406.4 L1462.7 402.7 L1463.4 399.5 L1464.0 396.7 L1464.7 393.8 L1465.3 390.2 L1467.2 385.5 L1467.8 381.3 L1468.5 377.6 L1469.1 374.4 L1469.8 370.8 L1471.7 366.1 L1472.3 362.8 L1473.0 359.5 L1473.6 356.4 L1474.2 353.3 L1476.2 350.1 L1476.8 346.9 L1477.4 343.8 L1478.1 340.8 L1478.7 337.8 L1480.6 333.7 L1481.3 330.3 L1481.9 327.1 L1482.6 323.7 L1483.2 319.9 L1485.1 315.5 L1485.8 313.1 L1486.4 312.0 L1487.0 312.9 L1487.7 314.7 L1489.6 315.8 L1490.2 317.2 L1490.9 318.6 L1491.5 320.0 L1492.2 321.6 L1494.1 323.6 L1494.7 325.0 L1495.4 326.1 L1496.0 326.7 L1496.6 326.3 L1498.5 325.2 L1499.2 323.8 L1499.8 322.0 L1500.5 320.2 L1501.1 317.8 L1503.0 315.0 L1503.7 312.4 L1504.3 310.2 L1504.9 308.6 L1505.6 307.4 L1507.5 307.6 L1508.1 308.0 L1508.8 308.7 L1509.4 309.8 L1510.1 311.1 L1512.0 312.8 L1512.6 315.5 L1513.3 317.8 L1513.9 319.8 L1514.5 321.5 L1516.5 323.3 L1517.1 325.0 L1517.7 326.5 L1518.4 328.1 L1519.0 329.6 L1520.9 330.0 L1521.6 329.7 L1522.2 328.8 L1522.9 327.3 L1523.5 324.3 L1525.4 320.6 L1526.1 316.6 L1526.7 311.4 L1527.3 305.4 L1528.0 297.9 L1529.9 290.7 L1530.5 283.8 L1531.2 277.6 L1531.8 272.0 L1532.4 264.2 L1534.4 255.3 L1535.0 249.7 L1535.6 245.8 L1536.3 242.9 L1536.9 238.4 L1538.8 237.2 L1539.5 233.0 L1540.1 227.3 L1540.8 223.8 L1541.4 221.6 L1543.3 220.7 L1544.0 220.1 L1544.6 221.2 L1545.2 222.8 L1545.9 224.1 L1547.8 226.3 L1548.4 227.8 L1549.1 228.9 L1549.7 229.7 L1550.4 230.7 L1552.3 232.1 L1552.9 233.6 L1553.6 235.1 L1554.2 236.6 L1554.8 238.5 L1556.8 240.0 L1557.4 241.2 L1558.0 242.1 L1558.7 242.7 L1559.3 243.0 L1561.2 241.6 L1561.9 239.2 L1562.5 235.9 L1563.1 232.7 L1563.8 229.5 L1565.7 224.4 L1566.3 220.3 L1567.0 217.1 L1567.6 214.4 L1568.3 211.8 L1570.2 210.3 L1570.8 209.2 L1571.5 208.5 L1572.1 208.3 L1572.7 208.5 L1574.7 209.7 L1575.3 211.4 L1575.9 213.2 L1576.6 215.4 L1577.2 216.9 L1579.1 217.5 L1579.8 217.4 L1580.4 216.4" fill="none" stroke="#e74c3c" stroke-opacity="0.7" stroke-width="2.8" stroke-linejoin="round" stroke-linecap="square"/>
<path d="M261.4 708.5 L265.0 716.0" stroke="#e74c3c" stroke-opacity="0.3" stroke-width="2.1" stroke-dasharray="7.7 3.3" fill="none"/>
<path d="M290.3 706.5 L301.3 643.5" stroke="#27ae60" stroke-opacity="0.3" stroke-width="2.1" stroke-dasharray="7.7 3.3" fill="none"/>
<path d="M352.3 595.5 L357.3 610.6" stroke="#e74c3c" stroke-opacity="0.3" stroke-width="2.1" stroke-dasharray="7.7 3.3" fill="none"/>
<path d="M358.6 598.5 L439.6 357.3" stroke="#27ae60" stroke-opacity="0.3" stroke-width="2.1" stroke-dasharray="7.7 3.3" fill="none"/>
<path d="M494.5 258.7 L496.5 287.0" stroke="#e74c3c" stroke-opacity="0.3" stroke-width="2.1" stroke-dasharray="7.7 3.3" fill="none"/>
<path d="M498.7 285.8 L506.8 301.5" stroke="#e74c3c" stroke-opacity="0.3" stroke-width="2.1" stroke-dasharray="7.7 3.3" fill="none"/>
<path d="M537.5 272.3 L538.4 327.3" stroke="#e74c3c" stroke-opacity="0.3" stroke-width="2.1" stroke-dasharray="7.7 3.3" fill="none"/>
<path d="M556.4 283.9 L582.2 193.9" stroke="#27ae60" stroke-opacity="0.3" stroke-width="2.1" stroke-dasharray="7.7 3.3" fill="none"/>
<path d="M673.3 362.5 L704.3 374.2" stroke="#e74c3c" stroke-opacity="0.3" stroke-width="2.1" stroke-dasharray="7.7 3.3" fill="none"/>
<path d="M715.3 332.3 L756.2 248.3" stroke="#27ae60" stroke-opacity="0.3" stroke-width="2.1" stroke-dasharray="7.7 3.3" fill="none"/>
<path d="M779.4 230.3 L792.3 291.7" stroke="#e74c3c" stroke-opacity="0.3" stroke-width="2.1" stroke-dasharray="7.7 3.3" fill="none"/>
<path d="M841.5 357.0 L847.5 395.7" stroke="#e74c3c" stroke-opacity="0.3" stroke-width="2.1" stroke-dasharray="7.7 3.3" fill="none"/>
<path d="M883.3 421.3 L966.5 417.2" stroke="#27ae60" stroke-opacity="0.3" stroke-width="2.1" stroke-dasharray="7.7 3.3" fill="none"/>
<path d="M980.4 273.0 L990.6 275.0" stroke="#e74c3c" stroke-opacity="0.3" stroke-width="2.1" stroke-dasharray="7.7 3.3" fill="none"/>
<path d="M1053.0 316.5 L1057.3 352.8" stroke="#e74c3c" stroke-opacity="0.3" stroke-width="2.1" stroke-dasharray="7.7 3.3" fill="none"/>
<path d="M1065.5 328.0 L1084.5 332.5" stroke="#e74c3c" stroke-opacity="0.3" stroke-width="2.1" stroke-dasharray="7.7 3.3" fill="none"/>
<path d="M1096.7 257.0 L1113.5 310.3" stroke="#e74c3c" stroke-opacity="0.3" stroke-width="2.1" stroke-dasharray="7.7 3.3" fill="none"/>
<path d="M1123.5 264.3 L1136.6 290.4" stroke="#e74c3c" stroke-opacity="0.3" stroke-width="2.1" stroke-dasharray="7.7 3.3" fill="none"/>
<path d="M1181.0 325.3 L1203.9 331.0" stroke="#e74c3c" stroke-opacity="0.3" stroke-width="2.1" stroke-dasharray="7.7 3.3" fill="none"/>
<path d="M1339.4 497.5 L1373.5 430.6" stroke="#27ae60" stroke-opacity="0.3" stroke-width="2.1" stroke-dasharray="7.7 3.3" fill="none"/>
<path d="M1423.3 440.5 L1428.6 480.3" stroke="#e74c3c" stroke-opacity="0.3" stroke-width="2.1" stroke-dasharray="7.7 3.3" fill="none"/>
<path d="M1435.5 457.3 L1446.6 451.7" stroke="#27ae60" stroke-opacity="0.3" stroke-width="2.1" stroke-dasharray="7.7 3.3" fill="none"/>
<path d="M1498.7 285.4 L1509.4 330.8" stroke="#e74c3c" stroke-opacity="0.3" stroke-width="2.1" stroke-dasharray="7.7 3.3" fill="none"/>
<path d="M1522.2 266.7 L1535.1 170.2" stroke="#27ae60" stroke-opacity="0.3" stroke-width="2.1" stroke-dasharray="7.7 3.3" fill="none"/>
<path d="M1562.5 214.6 L1572.4 233.6" stroke="#e74c3c" stroke-opacity="0.3" stroke-width="2.1" stroke-dasharray="7.7 3.3" fill="none"/>
<path d="M261.4 699.4 L252.3 717.6 L270.5 717.6 Z" fill="#27ae60" stroke="#000" stroke-width="2.8" stroke-linejoin="miter"/>
<path d="M290.3 697.4 L281.2 715.6 L299.4 715.6 Z" fill="#27ae60" stroke="#000" stroke-width="2.8" stroke-linejoin="miter"/>
<path d="M352.3 586.4 L343.2 604.6 L361.4 604.6 Z" fill="#27ae60" stroke="#000" stroke-width="2.8" stroke-linejoin="miter"/>
<path d="M358.6 589.4 L349.5 607.6 L367.7 607.6 Z" fill="#27ae60" stroke="#000" stroke-width="2.8" stroke-linejoin="miter"/>
<path d="M494.5 249.6 L485.4 267.8 L503.6 267.8 Z" fill="#27ae60" stroke="#000" stroke-width="2.8" stroke-linejoin="miter"/>
<path d="M498.7 276.7 L489.6 294.9 L507.8 294.9 Z" fill="#27ae60" stroke="#000" stroke-width="2.8" stroke-linejoin="miter"/>
<path d="M537.5 263.2 L528.4 281.4 L546.6 281.4 Z" fill="#27ae60" stroke="#000" stroke-width="2.8" stroke-linejoin="miter"/>
<path d="M556.4 274.8 L547.3 293.0 L565.5 293.0 Z" fill="#27ae60" stroke="#000" stroke-width="2.8" stroke-linejoin="miter"/>
<path d="M673.3 353.4 L664.2 371.6 L682.4 371.6 Z" fill="#27ae60" stroke="#000" stroke-width="2.8" stroke-linejoin="miter"/>
<path d="M715.3 323.2 L706.2 341.4 L724.4 341.4 Z" fill="#27ae60" stroke="#000" stroke-width="2.8" stroke-linejoin="miter"/>
<path d="M779.4 221.2 L770.3 239.4 L788.5 239.4 Z" fill="#27ae60" stroke="#000" stroke-width="2.8" stroke-linejoin="miter"/>
<path d="M841.5 347.9 L832.4 366.1 L850.6 366.1 Z" fill="#27ae60" stroke="#000" stroke-width="2.8" stroke-linejoin="miter"/>
<path d="M883.3 412.2 L874.2 430.4 L892.4 430.4 Z" fill="#27ae60" stroke="#000" stroke-width="2.8" stroke-linejoin="miter"/>
<path d="M980.4 263.9 L971.3 282.1 L989.5 282.1 Z" fill="#27ae60" stroke="#000" stroke-width="2.8" stroke-linejoin="miter"/>
<path d="M1053.0 307.4 L1043.9 325.6 L1062.1 325.6 Z" fill="#27ae60" stroke="#000" stroke-width="2.8" stroke-linejoin="miter"/>
<path d="M1065.5 318.9 L1056.4 337.1 L1074.6 337.1 Z" fill="#27ae60" stroke="#000" stroke-width="2.8" stroke-linejoin="miter"/>
<path d="M1096.7 247.9 L1087.6 266.1 L1105.8 266.1 Z" fill="#27ae60" stroke="#000" stroke-width="2.8" stroke-linejoin="miter"/>
<path d="M1123.5 255.2 L1114.4 273.4 L1132.6 273.4 Z" fill="#27ae60" stroke="#000" stroke-width="2.8" stroke-linejoin="miter"/>
<path d="M1181.0 316.2 L1171.9 334.4 L1190.1 334.4 Z" fill="#27ae60" stroke="#000" stroke-width="2.8" stroke-linejoin="miter"/>
<path d="M1339.4 488.4 L1330.3 506.6 L1348.5 506.6 Z" fill="#27ae60" stroke="#000" stroke-width="2.8" stroke-linejoin="miter"/>
<path d="M1423.3 431.4 L1414.2 449.6 L1432.4 449.6 Z" fill="#27ae60" stroke="#000" stroke-width="2.8" stroke-linejoin="miter"/>
<path d="M1435.5 448.2 L1426.4 466.4 L1444.6 466.4 Z" fill="#27ae60" stroke="#000" stroke-width="2.8" stroke-linejoin="miter"/>
<path d="M1498.7 276.3 L1489.6 294.5 L1507.8 294.5 Z" fill="#27ae60" stroke="#000" stroke-width="2.8" stroke-linejoin="miter"/>
<path d="M1522.2 257.6 L1513.1 275.8 L1531.3 275.8 Z" fill="#27ae60" stroke="#000" stroke-width="2.8" stroke-linejoin="miter"/>
<path d="M1562.5 205.5 L1553.4 223.7 L1571.6 223.7 Z" fill="#27ae60" stroke="#000" stroke-width="2.8" stroke-linejoin="miter"/>
<path d="M1580.5 188.0 L1571.4 206.2 L1589.6 206.2 Z" fill="#27ae60" stroke="#000" stroke-width="2.8" stroke-linejoin="miter"/>
<path d="M255.7 706.7 L274.3 725.3 M255.7 725.3 L274.3 706.7" stroke="#c0392b" stroke-width="4.3" fill="none"/>
<path d="M292.0 634.2 L310.6 652.8 M292.0 652.8 L310.6 634.2" stroke="#c0392b" stroke-width="4.3" fill="none"/>
<path d="M430.3 348.0 L448.9 366.6 M430.3 366.6 L448.9 348.0" stroke="#c0392b" stroke-width="4.3" fill="none"/>
<path d="M497.5 292.2 L516.1 310.8 M497.5 310.8 L516.1 292.2" stroke="#c0392b" stroke-width="4.3" fill="none"/>
<path d="M572.9 184.6 L591.5 203.2 M572.9 203.2 L591.5 184.6" stroke="#c0392b" stroke-width="4.3" fill="none"/>
<path d="M695.0 364.9 L713.6 383.5 M695.0 383.5 L713.6 364.9" stroke="#c0392b" stroke-width="4.3" fill="none"/>
<path d="M746.9 239.0 L765.5 257.6 M746.9 257.6 L765.5 239.0" stroke="#c0392b" stroke-width="4.3" fill="none"/>
<path d="M783.0 282.4 L801.6 301.0 M783.0 301.0 L801.6 282.4" stroke="#c0392b" stroke-width="4.3" fill="none"/>
<path d="M957.2 407.9 L975.8 426.5 M957.2 426.5 L975.8 407.9" stroke="#c0392b" stroke-width="4.3" fill="none"/>
<path d="M981.3 265.7 L999.9 284.3 M981.3 284.3 L999.9 265.7" stroke="#c0392b" stroke-width="4.3" fill="none"/>
<path d="M1104.2 301.0 L1122.8 319.6 M1104.2 319.6 L1122.8 301.0" stroke="#c0392b" stroke-width="4.3" fill="none"/>
<path d="M1127.3 281.1 L1145.9 299.7 M1127.3 299.7 L1145.9 281.1" stroke="#c0392b" stroke-width="4.3" fill="none"/>
<path d="M1364.2 421.3 L1382.8 439.9 M1364.2 439.9 L1382.8 421.3" stroke="#c0392b" stroke-width="4.3" fill="none"/>
<path d="M1419.3 471.0 L1437.9 489.6 M1419.3 489.6 L1437.9 471.0" stroke="#c0392b" stroke-width="4.3" fill="none"/>
<path d="M1437.3 442.4 L1455.9 461.0 M1437.3 461.0 L1455.9 442.4" stroke="#c0392b" stroke-width="4.3" fill="none"/>
<path d="M1500.1 321.5 L1518.7 340.1 M1500.1 340.1 L1518.7 321.5" stroke="#c0392b" stroke-width="4.3" fill="none"/>
<path d="M1525.8 160.9 L1544.4 179.5 M1525.8 179.5 L1544.4 160.9" stroke="#c0392b" stroke-width="4.3" fill="none"/>
<path d="M1563.1 224.3 L1581.7 242.9 M1563.1 242.9 L1581.7 224.3" stroke="#c0392b" stroke-width="4.3" fill="none"/>
<path d="M357.3 619.7 L348.2 601.5 L366.4 601.5 Z" fill="#e74c3c" stroke="#000" stroke-width="2.8" stroke-linejoin="miter"/>
<path d="M496.5 296.1 L487.4 277.9 L505.6 277.9 Z" fill="#e74c3c" stroke="#000" stroke-width="2.8" stroke-linejoin="miter"/>
<path d="M538.4 336.4 L529.3 318.2 L547.5 318.2 Z" fill="#e74c3c" stroke="#000" stroke-width="2.8" stroke-linejoin="miter"/>
<path d="M847.5 404.8 L838.4 386.6 L856.6 386.6 Z" fill="#e74c3c" stroke="#000" stroke-width="2.8" stroke-linejoin="miter"/>
<path d="M1057.3 361.9 L1048.2 343.7 L1066.4 343.7 Z" fill="#e74c3c" stroke="#000" stroke-width="2.8" stroke-linejoin="miter"/>
<path d="M1084.5 341.6 L1075.4 323.4 L1093.6 323.4 Z" fill="#e74c3c" stroke="#000" stroke-width="2.8" stroke-linejoin="miter"/>
<path d="M1203.9 340.1 L1194.8 321.9 L1213.0 321.9 Z" fill="#e74c3c" stroke="#000" stroke-width="2.8" stroke-linejoin="miter"/>
</g>
<rect x="100.5" y="47.5" width="1550.0" height="770.0" fill="none" stroke="#000" stroke-width="1.1"/>
<path d="M170.5 817.5 v5.4 M404.5 817.5 v5.4 M637.5 817.5 v5.4 M871.5 817.5 v5.4 M1104.5 817.5 v5.4 M1338.5 817.5 v5.4 M1572.5 817.5 v5.4 M100.5 790.5 h-5.4 M100.5 660.5 h-5.4 M100.5 529.5 h-5.4 M100.5 399.5 h-5.4 M100.5 269.5 h-5.4 M100.5 138.5 h-5.4" stroke="#000" stroke-width="1.1" fill="none"/>
<text x="90" y="795.8" font-size="14.8" text-anchor="end" textLength="49.4" lengthAdjust="spacingAndGlyphs">20,000</text>
<text x="90" y="665.8" font-size="14.8" text-anchor="end" textLength="49.4" lengthAdjust="spacingAndGlyphs">40,000</text>
<text x="90" y="534.8" font-size="14.8" text-anchor="end" textLength="49.4" lengthAdjust="spacingAndGlyphs">60,000</text>
<text x="90" y="404.8" font-size="14.8" text-anchor="end" textLength="49.4" lengthAdjust="spacingAndGlyphs">80,000</text>
<text x="90" y="274.8" font-size="14.8" text-anchor="end" textLength="57.5" lengthAdjust="spacingAndGlyphs">100,000</text>
<text x="90" y="143.8" font-size="14.8" text-anchor="end" textLength="57.5" lengthAdjust="spacingAndGlyphs">120,000</text>
<text transform="translate(165.8 839.2) rotate(-45)" font-size="14.8" text-anchor="end" textLength="86.5" lengthAdjust="spacingAndGlyphs">2020-01-01</text>
<text transform="translate(399.8 839.2) rotate(-45)" font-size="14.8" text-anchor="end" textLength="86.5" lengthAdjust="spacingAndGlyphs">2021-01-01</text>
<text transform="translate(632.8 839.2) rotate(-45)" font-size="14.8" text-anchor="end" textLength="86.5" lengthAdjust="spacingAndGlyphs">2022-01-01</text>
<text transform="translate(866.8 839.2) rotate(-45)" font-size="14.8" text-anchor="end" textLength="86.5" lengthAdjust="spacingAndGlyphs">2023-01-01</text>
<text transform="translate(1099.8 839.2) rotate(-45)" font-size="14.8" text-anchor="end" textLength="86.5" lengthAdjust="spacingAndGlyphs">2024-01-01</text>
<text transform="translate(1333.8 839.2) rotate(-45)" font-size="14.8" text-anchor="end" textLength="86.5" lengthAdjust="spacingAndGlyphs">2025-01-01</text>
<text transform="translate(1567.8 839.2) rotate(-45)" font-size="14.8" text-anchor="end" textLength="86.5" lengthAdjust="spacingAndGlyphs">2026-01-01</text>
<text x="875.4" y="27" font-size="22.5" text-anchor="middle" textLength="517" lengthAdjust="spacingAndGlyphs">매수/매도 시점 분석 (short=7, long=40, stop_loss=10%)</text>
<text x="874.3" y="917.5" font-size="15.3" text-anchor="middle">날짜</text>
<text transform="translate(20 434.8) rotate(-90)" font-size="15.3" text-anchor="middle" textLength="63" lengthAdjust="spacingAndGlyphs">가격 (원)</text>
<rect x="107.4" y="54.3" width="296" height="67.4" rx="2.8" fill="#fff" fill-opacity="0.8" stroke="#ccc" stroke-opacity="0.8" stroke-width="1.1"/>
<path d="M112.4 66.1 H141.6" stroke="#34495e" stroke-opacity="0.85" stroke-width="2.1"/>
<path d="M113.6 87.3 H141.6" stroke="#3498db" stroke-opacity="0.72" stroke-width="2.8" stroke-linecap="square"/>
<path d="M113.6 108.4 H141.6" stroke="#e74c3c" stroke-opacity="0.7" stroke-width="2.8" stroke-linecap="square"/>
<text x="153.2" y="71.4" font-size="15" textLength="26.2" lengthAdjust="spacingAndGlyphs"><tspan font-size="13.4">종가</tspan></text>
<text x="153.2" y="92.5" font-size="15" textLength="83.3" lengthAdjust="spacingAndGlyphs"><tspan font-size="13.4">단기</tspan> EMA(7)</text>
<text x="153.2" y="113.6" font-size="15" textLength="93.3" lengthAdjust="spacingAndGlyphs"><tspan font-size="13.4">장기</tspan> EMA(40)</text>
<path d="M289.6 59.0 L280.5 77.2 L298.7 77.2 Z" fill="#27ae60" stroke="#000" stroke-width="2.8" stroke-linejoin="miter"/>
<path d="M280.3 78.9 L298.9 97.5 M280.3 97.5 L298.9 78.9" stroke="#c0392b" stroke-width="4.3" fill="none"/>
<path d="M289.6 118.1 L280.5 99.9 L298.7 99.9 Z" fill="#e74c3c" stroke="#000" stroke-width="2.8" stroke-linejoin="miter"/>
<text x="315.8" y="71.4" font-size="15" textLength="25.8" lengthAdjust="spacingAndGlyphs"><tspan font-size="13.4">매수</tspan></text>
<text x="315.8" y="92.5" font-size="15" textLength="66.3" lengthAdjust="spacingAndGlyphs"><tspan font-size="13.4">매도</tspan>(<tspan font-size="13.4">손절</tspan>)</text>
<text x="315.8" y="113.6" font-size="15" textLength="80.2" lengthAdjust="spacingAndGlyphs"><tspan font-size="13.4">매도</tspan>(<tspan font-size="13.4">시그널</tspan>)</text>
</svg></body></html>
